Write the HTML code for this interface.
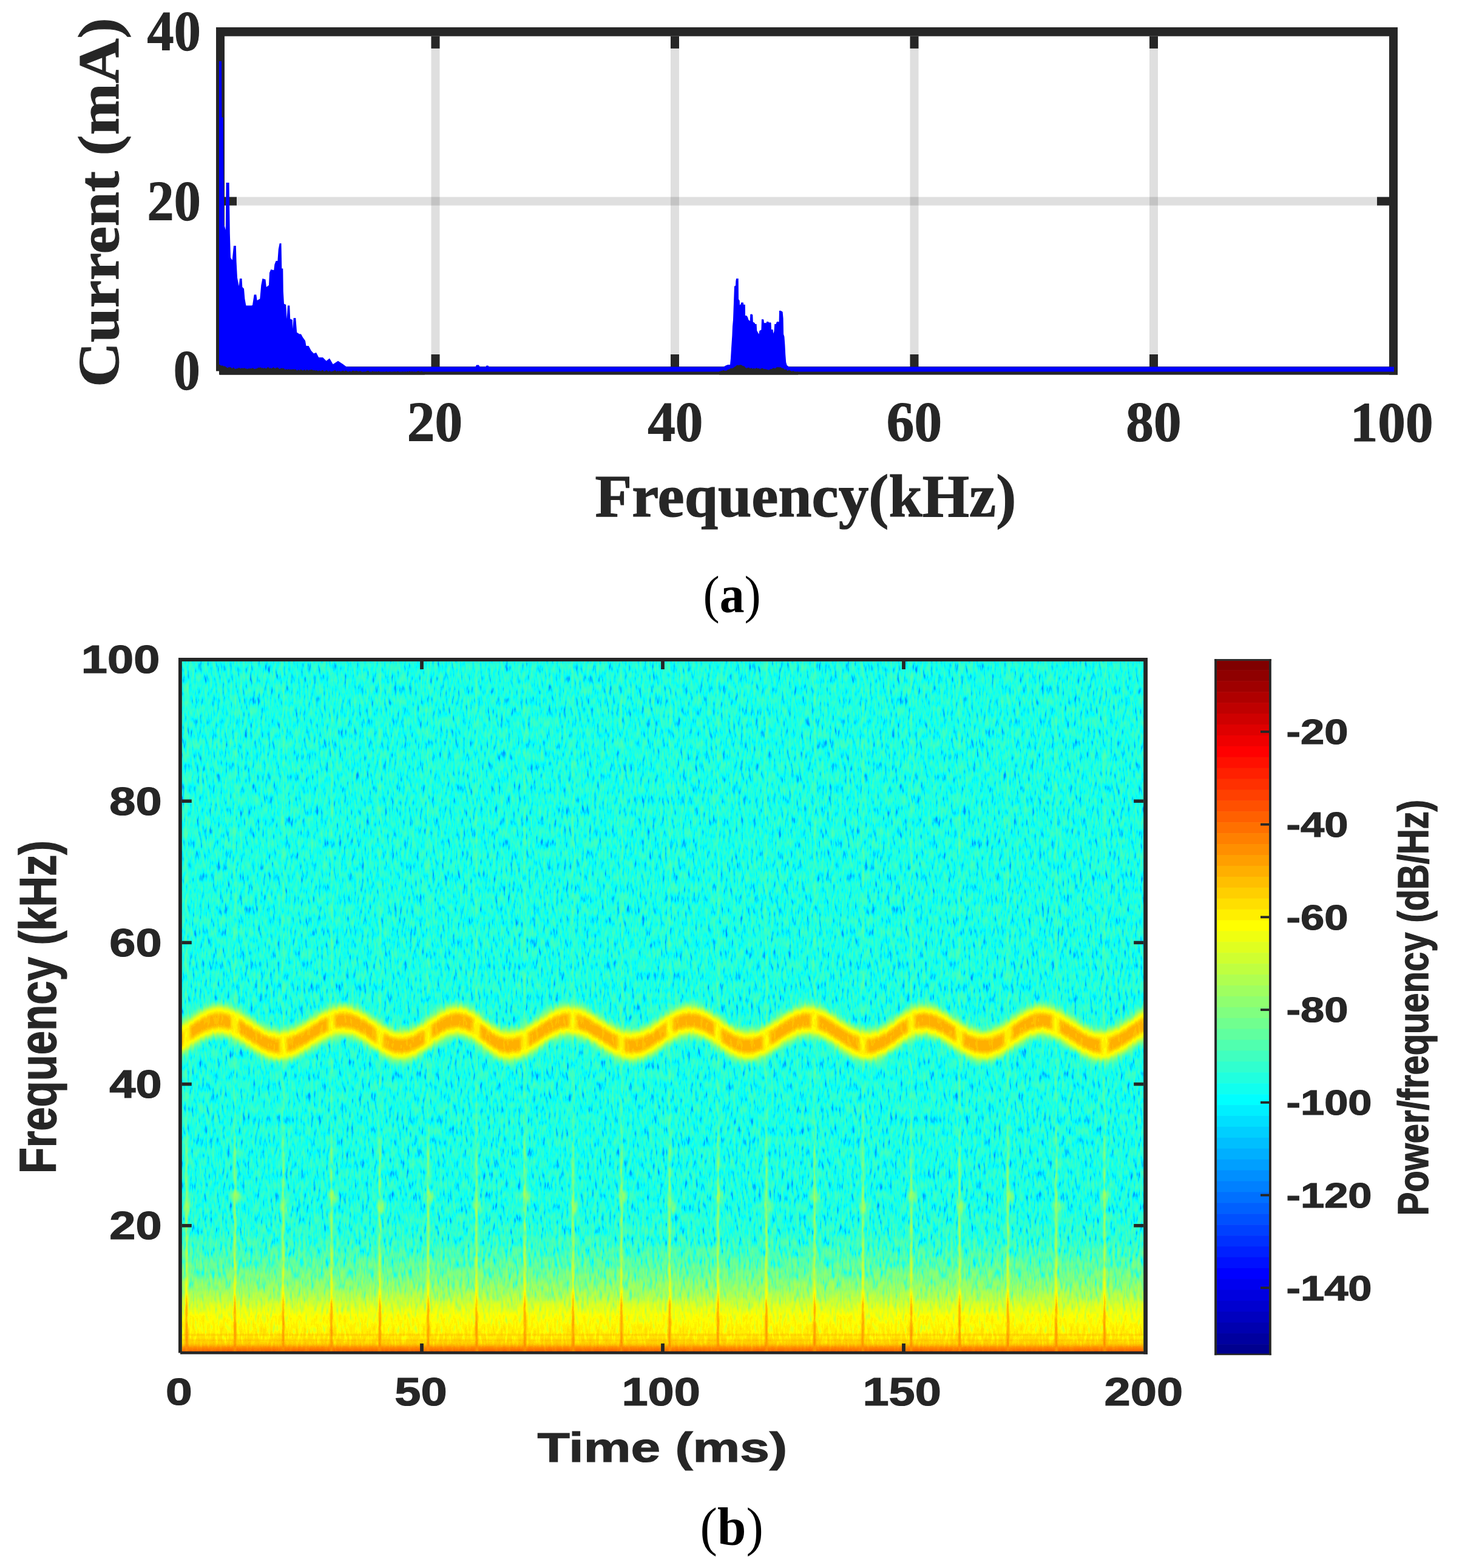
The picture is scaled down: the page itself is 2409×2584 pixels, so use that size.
<!DOCTYPE html>
<html><head><meta charset="utf-8"><title>Figure</title>
<style>html,body{margin:0;padding:0;background:#fff;} svg{display:block;}</style></head>
<body>
<svg width="2409" height="2584" viewBox="0 0 2409 2584">
<defs>
<linearGradient id="gb" gradientUnits="userSpaceOnUse" x1="0" y1="1990" x2="0" y2="2227"><stop offset="0.0000" stop-color="rgb(101,255,0)"/><stop offset="0.2110" stop-color="rgb(105,255,0)"/><stop offset="0.3797" stop-color="rgb(115,230,0)"/><stop offset="0.5063" stop-color="rgb(125,204,0)"/><stop offset="0.6118" stop-color="rgb(136,166,0)"/><stop offset="0.6835" stop-color="rgb(148,140,0)"/><stop offset="0.7511" stop-color="rgb(156,128,0)"/><stop offset="0.8650" stop-color="rgb(161,115,0)"/><stop offset="0.9156" stop-color="rgb(164,89,0)"/><stop offset="0.9494" stop-color="rgb(171,64,0)"/><stop offset="0.9747" stop-color="rgb(187,38,0)"/><stop offset="1.0000" stop-color="rgb(196,26,0)"/></linearGradient>
<filter id="bh1" x="-0.01" y="-3" width="1.02" height="7"><feGaussianBlur stdDeviation="0 1"/></filter>
<linearGradient id="gs" gradientUnits="userSpaceOnUse" x1="0" y1="1090" x2="0" y2="2227"><stop offset="0.0000" stop-color="rgb(120,128,0)" stop-opacity="0.3"/><stop offset="0.6684" stop-color="rgb(122,128,0)" stop-opacity="0.45"/><stop offset="0.7124" stop-color="rgb(129,128,0)" stop-opacity="0.8"/><stop offset="0.8443" stop-color="rgb(138,128,0)" stop-opacity="0.9"/><stop offset="0.9059" stop-color="rgb(153,76,0)" stop-opacity="0.95"/><stop offset="0.9323" stop-color="rgb(178,51,0)" stop-opacity="1"/><stop offset="1.0000" stop-color="rgb(186,38,0)" stop-opacity="1"/></linearGradient>
<filter id="b1" x="-2" y="-0.1" width="5" height="1.2"><feGaussianBlur stdDeviation="0.9"/></filter>
<filter id="b3d" x="-1" y="-1" width="3" height="3"><feGaussianBlur stdDeviation="3"/></filter>
<filter id="bb6" x="-0.1" y="-1" width="1.2" height="3"><feGaussianBlur stdDeviation="4"/></filter>
<filter id="bb4" x="-0.1" y="-1" width="1.2" height="3"><feGaussianBlur stdDeviation="3"/></filter>
<filter id="bb3" x="-0.5" y="-1" width="2" height="3"><feGaussianBlur stdDeviation="2.5"/></filter>
<filter id="jet" filterUnits="userSpaceOnUse" x="299.8" y="1090" width="1584.4" height="1137" color-interpolation-filters="sRGB">
<feTurbulence type="fractalNoise" baseFrequency="0.24 0.055" numOctaves="2" seed="7" result="t"/>
<feColorMatrix in="t" type="matrix" values="1 0 0 0 0 1 0 0 0 0 1 0 0 0 0 0 0 0 0 1" result="n"/>
<feComponentTransfer in="n" result="n2"><feFuncR type="table" tableValues="0 0.08 0.33 0.5 0.58 0.63 0.68"/><feFuncG type="table" tableValues="0 0.08 0.33 0.5 0.58 0.63 0.68"/><feFuncB type="table" tableValues="0 0.08 0.33 0.5 0.58 0.63 0.68"/></feComponentTransfer>
<feColorMatrix in="SourceGraphic" type="matrix" values="0 1 0 0 0 0 1 0 0 0 0 1 0 0 0 0 0 0 0 1" result="amp"/>
<feComposite in="amp" in2="n2" operator="arithmetic" k1="0.32" k2="-0.16" k3="0" k4="0.5" result="nz"/>
<feColorMatrix in="SourceGraphic" type="matrix" values="1 0 0 0 0 1 0 0 0 0 1 0 0 0 0 0 0 0 0 1" result="val"/>
<feComposite in="val" in2="nz" operator="arithmetic" k1="0" k2="1" k3="1" k4="-0.5" result="v"/>
<feComponentTransfer in="v"><feFuncR type="discrete" tableValues="0.0000 0.0000 0.0000 0.0000 0.0000 0.0000 0.0000 0.0000 0.0000 0.0000 0.0000 0.0000 0.0000 0.0000 0.0000 0.0000 0.0000 0.0000 0.0000 0.0000 0.0000 0.0000 0.0000 0.0000 0.0625 0.1250 0.1875 0.2500 0.3125 0.3750 0.4375 0.5000 0.5625 0.6250 0.6875 0.7500 0.8125 0.8750 0.9375 1.0000 1.0000 1.0000 1.0000 1.0000 1.0000 1.0000 1.0000 1.0000 1.0000 1.0000 1.0000 1.0000 1.0000 1.0000 1.0000 1.0000 0.9375 0.8750 0.8125 0.7500 0.6875 0.6250 0.5625 0.5000"/><feFuncG type="discrete" tableValues="0.0000 0.0000 0.0000 0.0000 0.0000 0.0000 0.0000 0.0000 0.0625 0.1250 0.1875 0.2500 0.3125 0.3750 0.4375 0.5000 0.5625 0.6250 0.6875 0.7500 0.8125 0.8750 0.9375 1.0000 1.0000 1.0000 1.0000 1.0000 1.0000 1.0000 1.0000 1.0000 1.0000 1.0000 1.0000 1.0000 1.0000 1.0000 1.0000 1.0000 0.9375 0.8750 0.8125 0.7500 0.6875 0.6250 0.5625 0.5000 0.4375 0.3750 0.3125 0.2500 0.1875 0.1250 0.0625 0.0000 0.0000 0.0000 0.0000 0.0000 0.0000 0.0000 0.0000 0.0000"/><feFuncB type="discrete" tableValues="0.5625 0.6250 0.6875 0.7500 0.8125 0.8750 0.9375 1.0000 1.0000 1.0000 1.0000 1.0000 1.0000 1.0000 1.0000 1.0000 1.0000 1.0000 1.0000 1.0000 1.0000 1.0000 1.0000 1.0000 0.9375 0.8750 0.8125 0.7500 0.6875 0.6250 0.5625 0.5000 0.4375 0.3750 0.3125 0.2500 0.1875 0.1250 0.0625 0.0000 0.0000 0.0000 0.0000 0.0000 0.0000 0.0000 0.0000 0.0000 0.0000 0.0000 0.0000 0.0000 0.0000 0.0000 0.0000 0.0000 0.0000 0.0000 0.0000 0.0000 0.0000 0.0000 0.0000 0.0000"/><feFuncA type="linear" slope="0" intercept="1"/></feComponentTransfer>
</filter>
</defs>
<rect x="0" y="0" width="2409" height="2584" fill="#fff"/>
<g id="top"><rect x="710.5" y="59.7" width="14" height="544.3" fill="rgba(38,38,38,0.15)"/>
<rect x="1105" y="59.7" width="14" height="544.3" fill="rgba(38,38,38,0.15)"/>
<rect x="1499.5" y="59.7" width="14" height="544.3" fill="rgba(38,38,38,0.15)"/>
<rect x="1894" y="59.7" width="14" height="544.3" fill="rgba(38,38,38,0.15)"/>
<rect x="370" y="324.6" width="1919" height="14" fill="rgba(38,38,38,0.15)"/>
<rect x="356" y="45" width="1947" height="14.7" fill="#262626"/>
<rect x="362" y="604" width="1941" height="13.6" fill="#262626"/>
<rect x="356" y="45" width="14" height="566.6" fill="#262626"/>
<rect x="2289" y="45" width="14" height="572.6" fill="#262626"/>
<rect x="710.5" y="59.7" width="14" height="20.2" fill="#262626"/>
<rect x="710.5" y="584" width="14" height="20" fill="#262626"/>
<rect x="1105" y="59.7" width="14" height="20.2" fill="#262626"/>
<rect x="1105" y="584" width="14" height="20" fill="#262626"/>
<rect x="1499.5" y="59.7" width="14" height="20.2" fill="#262626"/>
<rect x="1499.5" y="584" width="14" height="20" fill="#262626"/>
<rect x="1894" y="59.7" width="14" height="20.2" fill="#262626"/>
<rect x="1894" y="584" width="14" height="20" fill="#262626"/>
<rect x="370" y="324.6" width="20" height="14" fill="#262626"/>
<rect x="2269" y="324.6" width="20" height="14" fill="#262626"/>
<polygon points="361,612.5 361,612 361,100.8 365,100.8 365.5,193.5 367.7,193.5 368.3,257 369.4,370.6 371.8,379 372.6,301 377.6,301 378.2,343 378.8,384.5 380,424.6 382.7,428.7 385,405 388.8,405 389.6,431.5 391,457.8 393.7,471.6 395,459 398.5,459 399.3,473 402,475.8 403.4,492.4 405.4,503.5 414.5,503.5 416,503 418.7,485.5 422.3,485.5 423.6,495 428.3,492.4 430.3,470 432.5,459 437.5,460.6 438.9,473 443,470 444,449.5 446.3,444 451.3,445.3 452.4,435.7 454.6,430 457.4,430 458.8,410.8 460.7,401 463.5,401 464.3,442.6 466.3,442.6 466.8,480 468,500.7 471.2,502 472.6,525.6 474,503.5 477.3,503.5 478.2,525.6 481.8,527 482.3,542 483.7,524 487.3,524 489.2,547.8 493.4,550.5 496,550.5 499,556 503,561.6 504.5,570 508.6,570 512.8,578 517,582.4 521,581 525.2,589 532,589 537.7,594.8 543,590.6 548.7,600.3 557,594.8 565.3,600.3 571,604.5 580,605 580,612.5" fill="#0000ff"/>
<polygon points="1193,612.5 1193,604 1196.6,602 1199.6,601 1203,601 1204,591 1205,574 1206.4,552.7 1207,538 1208,527 1209,499 1210,471.7 1212,470.7 1212.4,462.7 1213.2,459 1216.7,459 1217,492.9 1218.7,495.4 1219,503 1220.7,501 1221.2,498.4 1224.8,498.4 1225.3,502 1227.8,502 1228,520 1230.8,520.5 1232.3,523.5 1233.3,527 1235.8,529 1236.3,518 1238.8,517.5 1240.3,519 1240.8,530.6 1243.4,532 1244.4,534 1246.6,534 1247.2,544.7 1250.4,550.7 1251.4,545 1254.4,543.6 1255,526 1258.4,526.5 1259,532.6 1260.5,532 1262.5,532.6 1263.3,530 1266,530 1267.5,532 1268.5,531 1270.5,532 1271,543 1273.5,543 1274.3,549.7 1275.5,545.7 1276.3,534 1278.6,534 1279.6,531 1280.6,530 1283.6,530.6 1284,512 1286.6,512 1289.6,514 1290.6,525 1291.1,550.7 1292.4,554.7 1293.4,568.3 1294.2,583.9 1295.2,597 1296.7,602 1300.7,605 1307.7,606 1307.7,612.5" fill="#0000ff"/>
<rect x="362" y="604.5" width="1935" height="8" fill="#0000ff"/>
<polygon points="361,617.6 361,600.56 362.6,601.37 364.2,602.83 365.8,602.19 367.4,602.85 369,603.65 370.6,603.22 372.2,604.66 373.8,605.56 375.4,606.46 377,604.8 378.6,605.46 380.2,605.05 381.8,607.02 383.4,606.85 385,605.31 386.6,607.84 388.2,607.93 389.8,607.26 391.4,607.29 393,606.24 394.6,606.01 396.2,607.45 397.8,606.38 399.4,606.84 401,606.97 402.6,606.35 404.2,607.38 405.8,607.24 407.4,608.19 409,607.28 410.6,607.51 412.2,607.07 413.8,607.41 415.4,606.8 417,606.26 418.6,608.02 420.2,607.94 421.8,607.51 423.4,607.13 425,606.08 426.6,605.82 428.2,605.93 429.8,605.33 431.4,607.08 433,606.1 434.6,607.2 436.2,605.98 437.8,607.41 439.4,607.08 441,604.93 442.6,605.5 444.2,607.34 445.8,606.25 447.4,607.59 449,606.14 450.6,605.35 452.2,606.82 453.8,607.24 455.4,605.98 457,605.55 458.6,606.22 460.2,607.91 461.8,607.7 463.4,606.38 465,607.03 466.6,606.98 468.2,607.19 469.8,609.4 471.4,607.9 473,608.93 474.6,608.7 476.2,608.09 477.8,609.53 479.4,608.05 481,609.41 482.6,608.12 484.2,608.95 485.8,608.47 487.4,608.67 489,610.52 490.6,610.14 492.2,608.92 493.8,610.46 495.4,608.79 497,609.31 498.6,610.54 500.2,610.05 501.8,608.72 503.4,611.06 505,609.13 506.6,609.31 508.2,610.69 509.8,609.61 511.4,609.59 513,609.08 514.6,609.18 516.2,610.5 517.8,609.69 519.4,610.67 521,610.14 522.6,610.41 524.2,611.76 525.8,610.61 527.4,610.9 529,611.71 530.6,610.02 532.2,610 533.8,611.99 535.4,611.82 537,610.43 538.6,610.33 540.2,611.8 541.8,612.34 543.4,610.46 545,612.42 546.6,612.27 548.2,611.58 549.8,611.14 551.4,610.36 553,610.22 554.6,612.61 556.2,610.78 557.8,612 559.4,610.88 561,612.36 562.6,611.8 564.2,611.05 565.8,610.78 567.4,612.2 569,610.56 570.6,610.99 572.2,611.87 573.8,612.65 575.4,612.06 577,611.23 578.6,612.89 580.2,611.09 581.8,610.64 583.4,611.31 585,611.79 586.6,610.83 588.2,611.15 589.8,611.67 591.4,612.22 593,611.12 594.6,611.74 596.2,613.12 597.8,613.37 599.4,612.57 601,612.67 602.6,612.41 604.2,611.28 605.8,611.02 607.4,610.98 609,613.28 610.6,612.75 612.2,613.43 613.8,611.02 615.4,612.61 617,612.22 618.6,612.86 620.2,611.82 621.8,613.5 623.4,611.21 625,612.42 626.6,612.92 628.2,613.35 629.8,612.94 631.4,612.86 633,613.1 634.6,613.42 636.2,611.98 637.8,612.84 639.4,613.4 641,613.34 642.6,612.18 644.2,613.14 645.8,613.34 647.4,612.6 649,612.74 650.6,612.13 652.2,612.65 653.8,612.73 655.4,611.38 657,612.82 658.6,613.5 660.2,613.45 661.8,613.07 663.4,612.21 665,613.11 666.6,612.72 668.2,612.37 669.8,613.4 671.4,611.47 673,613.19 674.6,611.35 676.2,612.82 677.8,612.52 679.4,611.89 681,613.09 682.6,612.59 684.2,612.89 685.8,613.5 687.4,611.99 689,611.37 690.6,612.12 692.2,613.1 693.8,611.89 695.4,611.81 697,613.5 698.6,613.08 700,617.6" fill="#262626"/>
<polygon points="1185,617.6 1185,611.53 1186.6,612.48 1188.2,610.84 1189.8,611.5 1191.4,610.11 1193,610.5 1194.6,611.06 1196.2,610.94 1197.8,610.45 1199.4,608.78 1201,608.89 1202.6,607.81 1204.2,606.95 1205.8,607.1 1207.4,606.83 1209,605.72 1210.6,604.22 1212.2,603.81 1213.8,601.93 1215.4,601.49 1217,602.05 1218.6,601.44 1220.2,601.13 1221.8,601.48 1223.4,602.7 1225,603.16 1226.6,603.51 1228.2,605.65 1229.8,606.81 1231.4,606.26 1233,605.65 1234.6,605.63 1236.2,607.87 1237.8,605.83 1239.4,607.63 1241,607.36 1242.6,606.78 1244.2,608.1 1245.8,606.22 1247.4,606.6 1249,607.51 1250.6,606.49 1252.2,608.63 1253.8,607.2 1255.4,607.03 1257,606.87 1258.6,608.44 1260.2,608.05 1261.8,608.6 1263.4,608.75 1265,609.22 1266.6,609.68 1268.2,609.06 1269.8,607.9 1271.4,608.24 1273,607.06 1274.6,606.2 1276.2,606.96 1277.8,607.15 1279.4,605.35 1281,605.16 1282.6,604.93 1284.2,605.4 1285.8,605.08 1287.4,606 1289,607.05 1290.6,606.81 1292.2,608.5 1293.8,609.39 1295.4,607.9 1297,610.66 1298.6,610.72 1300.2,609.75 1301.8,610.74 1303.4,611.34 1305,612.23 1306.6,611.02 1308.2,611.68 1309.8,612.63 1311.4,612.58 1313,613.12 1314.6,612.05 1315,617.6" fill="#262626"/>
<path d="M783,605 L785,601.5 L789,601.5 L791,605 Z M800,605 L801.5,602.5 L804.5,602.5 L806,605 Z" fill="#0000ff"/></g>
<g id="bottom"><g filter="url(#jet)"><rect x="299.8" y="1090" width="1584.4" height="1137" fill="rgb(101,255,0)"/>
<rect x="299.8" y="1990" width="1584.4" height="237" fill="url(#gb)"/>
<g fill="rgb(176,38,0)" fill-opacity="0.55" filter="url(#bh1)"><rect x="299.8" y="2198.5" width="1584.4" height="2.5"/><rect x="299.8" y="2207.5" width="1584.4" height="2.5"/></g>
<g fill="url(#gs)" filter="url(#b1)"><rect x="305.5" y="1090" width="4" height="1137"/><rect x="385.1" y="1090" width="4" height="1137"/><rect x="464.7" y="1090" width="4" height="1137"/><rect x="544.3" y="1090" width="4" height="1137"/><rect x="623.9" y="1090" width="4" height="1137"/><rect x="703.5" y="1090" width="4" height="1137"/><rect x="783.1" y="1090" width="4" height="1137"/><rect x="862.7" y="1090" width="4" height="1137"/><rect x="942.3" y="1090" width="4" height="1137"/><rect x="1021.9" y="1090" width="4" height="1137"/><rect x="1101.5" y="1090" width="4" height="1137"/><rect x="1181.1" y="1090" width="4" height="1137"/><rect x="1260.7" y="1090" width="4" height="1137"/><rect x="1340.3" y="1090" width="4" height="1137"/><rect x="1419.9" y="1090" width="4" height="1137"/><rect x="1499.5" y="1090" width="4" height="1137"/><rect x="1579.1" y="1090" width="4" height="1137"/><rect x="1658.7" y="1090" width="4" height="1137"/><rect x="1738.3" y="1090" width="4" height="1137"/><rect x="1817.9" y="1090" width="4" height="1137"/></g>
<g fill="rgb(135,128,0)" fill-opacity="0.75" filter="url(#b3d)"><ellipse cx="309.5" cy="1989" rx="7" ry="11"/><ellipse cx="389.1" cy="1972" rx="7" ry="11"/><ellipse cx="468.7" cy="1989" rx="7" ry="11"/><ellipse cx="548.3" cy="1972" rx="7" ry="11"/><ellipse cx="627.9" cy="1989" rx="7" ry="11"/><ellipse cx="707.5" cy="1972" rx="7" ry="11"/><ellipse cx="787.1" cy="1989" rx="7" ry="11"/><ellipse cx="866.7" cy="1972" rx="7" ry="11"/><ellipse cx="946.3" cy="1989" rx="7" ry="11"/><ellipse cx="1025.9" cy="1972" rx="7" ry="11"/><ellipse cx="1105.5" cy="1989" rx="7" ry="11"/><ellipse cx="1185.1" cy="1972" rx="7" ry="11"/><ellipse cx="1264.7" cy="1989" rx="7" ry="11"/><ellipse cx="1344.3" cy="1972" rx="7" ry="11"/><ellipse cx="1423.9" cy="1989" rx="7" ry="11"/><ellipse cx="1503.5" cy="1972" rx="7" ry="11"/><ellipse cx="1583.1" cy="1989" rx="7" ry="11"/><ellipse cx="1662.7" cy="1972" rx="7" ry="11"/><ellipse cx="1742.3" cy="1989" rx="7" ry="11"/><ellipse cx="1821.9" cy="1972" rx="7" ry="11"/></g>
<path d="M287.8,1687.94 L290.8,1686.48 L293.8,1684.88 L296.8,1683.16 L299.8,1681.34 L302.8,1679.43 L305.8,1677.46 L308.8,1675.44 L311.8,1673.39 L314.8,1671.33 L317.8,1669.29 L320.8,1667.27 L323.8,1665.31 L326.8,1663.41 L329.8,1661.61 L332.8,1659.9 L335.8,1658.32 L338.8,1656.87 L341.8,1655.58 L344.8,1654.44 L347.8,1653.48 L350.8,1652.7 L353.8,1652.11 L356.8,1651.72 L359.8,1651.52 L362.8,1651.53 L365.8,1651.72 L368.8,1652.1 L371.8,1652.67 L374.8,1653.41 L377.8,1654.32 L380.8,1655.4 L383.8,1656.63 L386.8,1658.01 L389.8,1659.51 L392.8,1661.13 L395.8,1662.85 L398.8,1664.66 L401.8,1666.54 L404.8,1668.48 L407.8,1670.45 L410.8,1672.43 L413.8,1674.42 L416.8,1676.39 L419.8,1678.33 L422.8,1680.21 L425.8,1682.03 L428.8,1683.76 L431.8,1685.38 L434.8,1686.9 L437.8,1688.28 L440.8,1689.52 L443.8,1690.61 L446.8,1691.53 L449.8,1692.29 L452.8,1692.87 L455.8,1693.26 L458.8,1693.47 L461.8,1693.49 L464.8,1693.34 L467.8,1693.02 L470.8,1692.54 L473.8,1691.9 L476.8,1691.11 L479.8,1690.17 L482.8,1689.09 L485.8,1687.88 L488.8,1686.55 L491.8,1685.1 L494.8,1683.55 L497.8,1681.92 L500.8,1680.21 L503.8,1678.44 L506.8,1676.62 L509.8,1674.77 L512.8,1672.91 L515.8,1671.03 L518.8,1669.17 L521.8,1667.34 L524.8,1665.55 L527.8,1663.81 L530.8,1662.14 L533.8,1660.56 L536.8,1659.07 L539.8,1657.68 L542.8,1656.42 L545.8,1655.28 L548.8,1654.28 L551.8,1653.42 L554.8,1652.71 L557.8,1652.17 L560.8,1651.78 L563.8,1651.56 L566.8,1651.5 L569.8,1651.64 L572.8,1651.98 L575.8,1652.53 L578.8,1653.27 L581.8,1654.2 L584.8,1655.31 L587.8,1656.59 L590.8,1658.02 L593.8,1659.6 L596.8,1661.31 L599.8,1663.12 L602.8,1665.03 L605.8,1667.01 L608.8,1669.04 L611.8,1671.11 L614.8,1673.19 L617.8,1675.27 L620.8,1677.32 L623.8,1679.32 L626.8,1681.25 L629.8,1683.1 L632.8,1684.84 L635.8,1686.47 L638.8,1687.95 L641.8,1689.28 L644.8,1690.45 L647.8,1691.44 L650.8,1692.25 L653.8,1692.86 L656.8,1693.27 L659.8,1693.47 L662.8,1693.47 L665.8,1693.26 L668.8,1692.83 L671.8,1692.19 L674.8,1691.35 L677.8,1690.31 L680.8,1689.1 L683.8,1687.71 L686.8,1686.16 L689.8,1684.48 L692.8,1682.67 L695.8,1680.76 L698.8,1678.76 L701.8,1676.7 L704.8,1674.59 L707.8,1672.46 L710.8,1670.34 L713.8,1668.23 L716.8,1666.17 L719.8,1664.18 L722.8,1662.27 L725.8,1660.46 L728.8,1658.78 L731.8,1657.24 L734.8,1655.86 L737.8,1654.65 L740.8,1653.62 L743.8,1652.79 L746.8,1652.15 L749.8,1651.73 L752.8,1651.52 L755.8,1651.54 L758.8,1651.81 L761.8,1652.34 L764.8,1653.12 L767.8,1654.15 L770.8,1655.4 L773.8,1656.87 L776.8,1658.53 L779.8,1660.37 L782.8,1662.36 L785.8,1664.48 L788.8,1666.7 L791.8,1668.99 L794.8,1671.33 L797.8,1673.67 L800.8,1676.01 L803.8,1678.3 L806.8,1680.52 L809.8,1682.64 L812.8,1684.63 L815.8,1686.47 L818.8,1688.13 L821.8,1689.6 L824.8,1690.85 L827.8,1691.88 L830.8,1692.66 L833.8,1693.19 L836.8,1693.46 L839.8,1693.48 L842.8,1693.3 L845.8,1692.93 L848.8,1692.37 L851.8,1691.64 L854.8,1690.74 L857.8,1689.67 L860.8,1688.44 L863.8,1687.08 L866.8,1685.58 L869.8,1683.96 L872.8,1682.24 L875.8,1680.44 L878.8,1678.56 L881.8,1676.63 L884.8,1674.66 L887.8,1672.67 L890.8,1670.68 L893.8,1668.7 L896.8,1666.76 L899.8,1664.87 L902.8,1663.05 L905.8,1661.32 L908.8,1659.68 L911.8,1658.16 L914.8,1656.77 L917.8,1655.53 L920.8,1654.43 L923.8,1653.5 L926.8,1652.74 L929.8,1652.15 L932.8,1651.75 L935.8,1651.54 L938.8,1651.51 L941.8,1651.66 L944.8,1651.98 L947.8,1652.48 L950.8,1653.14 L953.8,1653.95 L956.8,1654.93 L959.8,1656.04 L962.8,1657.29 L965.8,1658.67 L968.8,1660.17 L971.8,1661.76 L974.8,1663.45 L977.8,1665.2 L980.8,1667.02 L983.8,1668.89 L986.8,1670.78 L989.8,1672.69 L992.8,1674.6 L995.8,1676.49 L998.8,1678.34 L1001.8,1680.15 L1004.8,1681.9 L1007.8,1683.56 L1010.8,1685.14 L1013.8,1686.61 L1016.8,1687.97 L1019.8,1689.19 L1022.8,1690.28 L1025.8,1691.22 L1028.8,1692.01 L1031.8,1692.63 L1034.8,1693.09 L1037.8,1693.38 L1040.8,1693.5 L1043.8,1693.43 L1046.8,1693.16 L1049.8,1692.7 L1052.8,1692.04 L1055.8,1691.19 L1058.8,1690.16 L1061.8,1688.97 L1064.8,1687.61 L1067.8,1686.11 L1070.8,1684.49 L1073.8,1682.74 L1076.8,1680.9 L1079.8,1678.98 L1082.8,1676.99 L1085.8,1674.96 L1088.8,1672.91 L1091.8,1670.86 L1094.8,1668.82 L1097.8,1666.81 L1100.8,1664.86 L1103.8,1662.98 L1106.8,1661.2 L1109.8,1659.52 L1112.8,1657.97 L1115.8,1656.56 L1118.8,1655.3 L1121.8,1654.2 L1124.8,1653.28 L1127.8,1652.54 L1130.8,1652 L1133.8,1651.65 L1136.8,1651.51 L1139.8,1651.56 L1142.8,1651.82 L1145.8,1652.29 L1148.8,1652.95 L1151.8,1653.8 L1154.8,1654.84 L1157.8,1656.06 L1160.8,1657.43 L1163.8,1658.95 L1166.8,1660.61 L1169.8,1662.38 L1172.8,1664.26 L1175.8,1666.21 L1178.8,1668.22 L1181.8,1670.28 L1184.8,1672.36 L1187.8,1674.44 L1190.8,1676.5 L1193.8,1678.53 L1196.8,1680.49 L1199.8,1682.37 L1202.8,1684.16 L1205.8,1685.83 L1208.8,1687.37 L1211.8,1688.77 L1214.8,1690 L1217.8,1691.07 L1220.8,1691.95 L1223.8,1692.64 L1226.8,1693.13 L1229.8,1693.42 L1232.8,1693.5 L1235.8,1693.39 L1238.8,1693.08 L1241.8,1692.6 L1244.8,1691.93 L1247.8,1691.09 L1250.8,1690.08 L1253.8,1688.91 L1256.8,1687.59 L1259.8,1686.14 L1262.8,1684.57 L1265.8,1682.88 L1268.8,1681.11 L1271.8,1679.25 L1274.8,1677.34 L1277.8,1675.38 L1280.8,1673.4 L1283.8,1671.4 L1286.8,1669.42 L1289.8,1667.47 L1292.8,1665.56 L1295.8,1663.71 L1298.8,1661.94 L1301.8,1660.27 L1304.8,1658.71 L1307.8,1657.27 L1310.8,1655.97 L1313.8,1654.81 L1316.8,1653.82 L1319.8,1653 L1322.8,1652.35 L1325.8,1651.88 L1328.8,1651.59 L1331.8,1651.5 L1334.8,1651.59 L1337.8,1651.88 L1340.8,1652.35 L1343.8,1653 L1346.8,1653.82 L1349.8,1654.81 L1352.8,1655.97 L1355.8,1657.27 L1358.8,1658.71 L1361.8,1660.27 L1364.8,1661.94 L1367.8,1663.71 L1370.8,1665.56 L1373.8,1667.47 L1376.8,1669.42 L1379.8,1671.4 L1382.8,1673.4 L1385.8,1675.38 L1388.8,1677.34 L1391.8,1679.25 L1394.8,1681.11 L1397.8,1682.88 L1400.8,1684.57 L1403.8,1686.14 L1406.8,1687.59 L1409.8,1688.91 L1412.8,1690.08 L1415.8,1691.09 L1418.8,1691.93 L1421.8,1692.6 L1424.8,1693.08 L1427.8,1693.39 L1430.8,1693.5 L1433.8,1693.41 L1436.8,1693.09 L1439.8,1692.55 L1442.8,1691.8 L1445.8,1690.84 L1448.8,1689.68 L1451.8,1688.33 L1454.8,1686.81 L1457.8,1685.14 L1460.8,1683.33 L1463.8,1681.41 L1466.8,1679.39 L1469.8,1677.29 L1472.8,1675.15 L1475.8,1672.97 L1478.8,1670.79 L1481.8,1668.63 L1484.8,1666.51 L1487.8,1664.46 L1490.8,1662.49 L1493.8,1660.63 L1496.8,1658.89 L1499.8,1657.31 L1502.8,1655.89 L1505.8,1654.64 L1508.8,1653.59 L1511.8,1652.75 L1514.8,1652.11 L1517.8,1651.7 L1520.8,1651.51 L1523.8,1651.54 L1526.8,1651.76 L1529.8,1652.17 L1532.8,1652.76 L1535.8,1653.53 L1538.8,1654.46 L1541.8,1655.57 L1544.8,1656.82 L1547.8,1658.21 L1550.8,1659.74 L1553.8,1661.37 L1556.8,1663.11 L1559.8,1664.93 L1562.8,1666.82 L1565.8,1668.77 L1568.8,1670.74 L1571.8,1672.73 L1574.8,1674.72 L1577.8,1676.69 L1580.8,1678.62 L1583.8,1680.5 L1586.8,1682.3 L1589.8,1684.02 L1592.8,1685.63 L1595.8,1687.12 L1598.8,1688.49 L1601.8,1689.71 L1604.8,1690.77 L1607.8,1691.67 L1610.8,1692.39 L1613.8,1692.94 L1616.8,1693.31 L1619.8,1693.48 L1622.8,1693.47 L1625.8,1693.25 L1628.8,1692.82 L1631.8,1692.2 L1634.8,1691.38 L1637.8,1690.38 L1640.8,1689.2 L1643.8,1687.86 L1646.8,1686.36 L1649.8,1684.73 L1652.8,1682.98 L1655.8,1681.13 L1658.8,1679.19 L1661.8,1677.18 L1664.8,1675.13 L1667.8,1673.06 L1670.8,1670.97 L1673.8,1668.91 L1676.8,1666.87 L1679.8,1664.9 L1682.8,1663 L1685.8,1661.19 L1688.8,1659.49 L1691.8,1657.92 L1694.8,1656.5 L1697.8,1655.23 L1700.8,1654.13 L1703.8,1653.21 L1706.8,1652.49 L1709.8,1651.95 L1712.8,1651.62 L1715.8,1651.5 L1718.8,1651.58 L1721.8,1651.84 L1724.8,1652.29 L1727.8,1652.92 L1730.8,1653.73 L1733.8,1654.71 L1736.8,1655.84 L1739.8,1657.13 L1742.8,1658.56 L1745.8,1660.11 L1748.8,1661.77 L1751.8,1663.53 L1754.8,1665.37 L1757.8,1667.27 L1760.8,1669.22 L1763.8,1671.21 L1766.8,1673.2 L1769.8,1675.18 L1772.8,1677.15 L1775.8,1679.07 L1778.8,1680.93 L1781.8,1682.71 L1784.8,1684.4 L1787.8,1685.99 L1790.8,1687.45 L1793.8,1688.78 L1796.8,1689.97 L1799.8,1690.99 L1802.8,1691.85 L1805.8,1692.54 L1808.8,1693.04 L1811.8,1693.36 L1814.8,1693.5 L1817.8,1693.43 L1820.8,1693.16 L1823.8,1692.69 L1826.8,1692.01 L1829.8,1691.14 L1832.8,1690.09 L1835.8,1688.86 L1838.8,1687.47 L1841.8,1685.93 L1844.8,1684.26 L1847.8,1682.47 L1850.8,1680.58 L1853.8,1678.62 L1856.8,1676.59 L1859.8,1674.52 L1862.8,1672.43 L1865.8,1670.34 L1868.8,1668.27 L1871.8,1666.25 L1874.8,1664.29 L1877.8,1662.41 L1880.8,1660.62 L1883.8,1658.96 L1886.8,1657.43 L1889.8,1656.05 L1892.8,1654.83 L1895.8,1653.79 L1896.2,1653.67 L1896.2,1713.67 L1895.8,1713.79 L1892.8,1714.83 L1889.8,1716.05 L1886.8,1717.43 L1883.8,1718.96 L1880.8,1720.62 L1877.8,1722.41 L1874.8,1724.29 L1871.8,1726.25 L1868.8,1728.27 L1865.8,1730.34 L1862.8,1732.43 L1859.8,1734.52 L1856.8,1736.59 L1853.8,1738.62 L1850.8,1740.58 L1847.8,1742.47 L1844.8,1744.26 L1841.8,1745.93 L1838.8,1747.47 L1835.8,1748.86 L1832.8,1750.09 L1829.8,1751.14 L1826.8,1752.01 L1823.8,1752.69 L1820.8,1753.16 L1817.8,1753.43 L1814.8,1753.5 L1811.8,1753.36 L1808.8,1753.04 L1805.8,1752.54 L1802.8,1751.85 L1799.8,1750.99 L1796.8,1749.97 L1793.8,1748.78 L1790.8,1747.45 L1787.8,1745.99 L1784.8,1744.4 L1781.8,1742.71 L1778.8,1740.93 L1775.8,1739.07 L1772.8,1737.15 L1769.8,1735.18 L1766.8,1733.2 L1763.8,1731.21 L1760.8,1729.22 L1757.8,1727.27 L1754.8,1725.37 L1751.8,1723.53 L1748.8,1721.77 L1745.8,1720.11 L1742.8,1718.56 L1739.8,1717.13 L1736.8,1715.84 L1733.8,1714.71 L1730.8,1713.73 L1727.8,1712.92 L1724.8,1712.29 L1721.8,1711.84 L1718.8,1711.58 L1715.8,1711.5 L1712.8,1711.62 L1709.8,1711.95 L1706.8,1712.49 L1703.8,1713.21 L1700.8,1714.13 L1697.8,1715.23 L1694.8,1716.5 L1691.8,1717.92 L1688.8,1719.49 L1685.8,1721.19 L1682.8,1723 L1679.8,1724.9 L1676.8,1726.87 L1673.8,1728.91 L1670.8,1730.97 L1667.8,1733.06 L1664.8,1735.13 L1661.8,1737.18 L1658.8,1739.19 L1655.8,1741.13 L1652.8,1742.98 L1649.8,1744.73 L1646.8,1746.36 L1643.8,1747.86 L1640.8,1749.2 L1637.8,1750.38 L1634.8,1751.38 L1631.8,1752.2 L1628.8,1752.82 L1625.8,1753.25 L1622.8,1753.47 L1619.8,1753.48 L1616.8,1753.31 L1613.8,1752.94 L1610.8,1752.39 L1607.8,1751.67 L1604.8,1750.77 L1601.8,1749.71 L1598.8,1748.49 L1595.8,1747.12 L1592.8,1745.63 L1589.8,1744.02 L1586.8,1742.3 L1583.8,1740.5 L1580.8,1738.62 L1577.8,1736.69 L1574.8,1734.72 L1571.8,1732.73 L1568.8,1730.74 L1565.8,1728.77 L1562.8,1726.82 L1559.8,1724.93 L1556.8,1723.11 L1553.8,1721.37 L1550.8,1719.74 L1547.8,1718.21 L1544.8,1716.82 L1541.8,1715.57 L1538.8,1714.46 L1535.8,1713.53 L1532.8,1712.76 L1529.8,1712.17 L1526.8,1711.76 L1523.8,1711.54 L1520.8,1711.51 L1517.8,1711.7 L1514.8,1712.11 L1511.8,1712.75 L1508.8,1713.59 L1505.8,1714.64 L1502.8,1715.89 L1499.8,1717.31 L1496.8,1718.89 L1493.8,1720.63 L1490.8,1722.49 L1487.8,1724.46 L1484.8,1726.51 L1481.8,1728.63 L1478.8,1730.79 L1475.8,1732.97 L1472.8,1735.15 L1469.8,1737.29 L1466.8,1739.39 L1463.8,1741.41 L1460.8,1743.33 L1457.8,1745.14 L1454.8,1746.81 L1451.8,1748.33 L1448.8,1749.68 L1445.8,1750.84 L1442.8,1751.8 L1439.8,1752.55 L1436.8,1753.09 L1433.8,1753.41 L1430.8,1753.5 L1427.8,1753.39 L1424.8,1753.08 L1421.8,1752.6 L1418.8,1751.93 L1415.8,1751.09 L1412.8,1750.08 L1409.8,1748.91 L1406.8,1747.59 L1403.8,1746.14 L1400.8,1744.57 L1397.8,1742.88 L1394.8,1741.11 L1391.8,1739.25 L1388.8,1737.34 L1385.8,1735.38 L1382.8,1733.4 L1379.8,1731.4 L1376.8,1729.42 L1373.8,1727.47 L1370.8,1725.56 L1367.8,1723.71 L1364.8,1721.94 L1361.8,1720.27 L1358.8,1718.71 L1355.8,1717.27 L1352.8,1715.97 L1349.8,1714.81 L1346.8,1713.82 L1343.8,1713 L1340.8,1712.35 L1337.8,1711.88 L1334.8,1711.59 L1331.8,1711.5 L1328.8,1711.59 L1325.8,1711.88 L1322.8,1712.35 L1319.8,1713 L1316.8,1713.82 L1313.8,1714.81 L1310.8,1715.97 L1307.8,1717.27 L1304.8,1718.71 L1301.8,1720.27 L1298.8,1721.94 L1295.8,1723.71 L1292.8,1725.56 L1289.8,1727.47 L1286.8,1729.42 L1283.8,1731.4 L1280.8,1733.4 L1277.8,1735.38 L1274.8,1737.34 L1271.8,1739.25 L1268.8,1741.11 L1265.8,1742.88 L1262.8,1744.57 L1259.8,1746.14 L1256.8,1747.59 L1253.8,1748.91 L1250.8,1750.08 L1247.8,1751.09 L1244.8,1751.93 L1241.8,1752.6 L1238.8,1753.08 L1235.8,1753.39 L1232.8,1753.5 L1229.8,1753.42 L1226.8,1753.13 L1223.8,1752.64 L1220.8,1751.95 L1217.8,1751.07 L1214.8,1750 L1211.8,1748.77 L1208.8,1747.37 L1205.8,1745.83 L1202.8,1744.16 L1199.8,1742.37 L1196.8,1740.49 L1193.8,1738.53 L1190.8,1736.5 L1187.8,1734.44 L1184.8,1732.36 L1181.8,1730.28 L1178.8,1728.22 L1175.8,1726.21 L1172.8,1724.26 L1169.8,1722.38 L1166.8,1720.61 L1163.8,1718.95 L1160.8,1717.43 L1157.8,1716.06 L1154.8,1714.84 L1151.8,1713.8 L1148.8,1712.95 L1145.8,1712.29 L1142.8,1711.82 L1139.8,1711.56 L1136.8,1711.51 L1133.8,1711.65 L1130.8,1712 L1127.8,1712.54 L1124.8,1713.28 L1121.8,1714.2 L1118.8,1715.3 L1115.8,1716.56 L1112.8,1717.97 L1109.8,1719.52 L1106.8,1721.2 L1103.8,1722.98 L1100.8,1724.86 L1097.8,1726.81 L1094.8,1728.82 L1091.8,1730.86 L1088.8,1732.91 L1085.8,1734.96 L1082.8,1736.99 L1079.8,1738.98 L1076.8,1740.9 L1073.8,1742.74 L1070.8,1744.49 L1067.8,1746.11 L1064.8,1747.61 L1061.8,1748.97 L1058.8,1750.16 L1055.8,1751.19 L1052.8,1752.04 L1049.8,1752.7 L1046.8,1753.16 L1043.8,1753.43 L1040.8,1753.5 L1037.8,1753.38 L1034.8,1753.09 L1031.8,1752.63 L1028.8,1752.01 L1025.8,1751.22 L1022.8,1750.28 L1019.8,1749.19 L1016.8,1747.97 L1013.8,1746.61 L1010.8,1745.14 L1007.8,1743.56 L1004.8,1741.9 L1001.8,1740.15 L998.8,1738.34 L995.8,1736.49 L992.8,1734.6 L989.8,1732.69 L986.8,1730.78 L983.8,1728.89 L980.8,1727.02 L977.8,1725.2 L974.8,1723.45 L971.8,1721.76 L968.8,1720.17 L965.8,1718.67 L962.8,1717.29 L959.8,1716.04 L956.8,1714.93 L953.8,1713.95 L950.8,1713.14 L947.8,1712.48 L944.8,1711.98 L941.8,1711.66 L938.8,1711.51 L935.8,1711.54 L932.8,1711.75 L929.8,1712.15 L926.8,1712.74 L923.8,1713.5 L920.8,1714.43 L917.8,1715.53 L914.8,1716.77 L911.8,1718.16 L908.8,1719.68 L905.8,1721.32 L902.8,1723.05 L899.8,1724.87 L896.8,1726.76 L893.8,1728.7 L890.8,1730.68 L887.8,1732.67 L884.8,1734.66 L881.8,1736.63 L878.8,1738.56 L875.8,1740.44 L872.8,1742.24 L869.8,1743.96 L866.8,1745.58 L863.8,1747.08 L860.8,1748.44 L857.8,1749.67 L854.8,1750.74 L851.8,1751.64 L848.8,1752.37 L845.8,1752.93 L842.8,1753.3 L839.8,1753.48 L836.8,1753.46 L833.8,1753.19 L830.8,1752.66 L827.8,1751.88 L824.8,1750.85 L821.8,1749.6 L818.8,1748.13 L815.8,1746.47 L812.8,1744.63 L809.8,1742.64 L806.8,1740.52 L803.8,1738.3 L800.8,1736.01 L797.8,1733.67 L794.8,1731.33 L791.8,1728.99 L788.8,1726.7 L785.8,1724.48 L782.8,1722.36 L779.8,1720.37 L776.8,1718.53 L773.8,1716.87 L770.8,1715.4 L767.8,1714.15 L764.8,1713.12 L761.8,1712.34 L758.8,1711.81 L755.8,1711.54 L752.8,1711.52 L749.8,1711.73 L746.8,1712.15 L743.8,1712.79 L740.8,1713.62 L737.8,1714.65 L734.8,1715.86 L731.8,1717.24 L728.8,1718.78 L725.8,1720.46 L722.8,1722.27 L719.8,1724.18 L716.8,1726.17 L713.8,1728.23 L710.8,1730.34 L707.8,1732.46 L704.8,1734.59 L701.8,1736.7 L698.8,1738.76 L695.8,1740.76 L692.8,1742.67 L689.8,1744.48 L686.8,1746.16 L683.8,1747.71 L680.8,1749.1 L677.8,1750.31 L674.8,1751.35 L671.8,1752.19 L668.8,1752.83 L665.8,1753.26 L662.8,1753.47 L659.8,1753.47 L656.8,1753.27 L653.8,1752.86 L650.8,1752.25 L647.8,1751.44 L644.8,1750.45 L641.8,1749.28 L638.8,1747.95 L635.8,1746.47 L632.8,1744.84 L629.8,1743.1 L626.8,1741.25 L623.8,1739.32 L620.8,1737.32 L617.8,1735.27 L614.8,1733.19 L611.8,1731.11 L608.8,1729.04 L605.8,1727.01 L602.8,1725.03 L599.8,1723.12 L596.8,1721.31 L593.8,1719.6 L590.8,1718.02 L587.8,1716.59 L584.8,1715.31 L581.8,1714.2 L578.8,1713.27 L575.8,1712.53 L572.8,1711.98 L569.8,1711.64 L566.8,1711.5 L563.8,1711.56 L560.8,1711.78 L557.8,1712.17 L554.8,1712.71 L551.8,1713.42 L548.8,1714.28 L545.8,1715.28 L542.8,1716.42 L539.8,1717.68 L536.8,1719.07 L533.8,1720.56 L530.8,1722.14 L527.8,1723.81 L524.8,1725.55 L521.8,1727.34 L518.8,1729.17 L515.8,1731.03 L512.8,1732.91 L509.8,1734.77 L506.8,1736.62 L503.8,1738.44 L500.8,1740.21 L497.8,1741.92 L494.8,1743.55 L491.8,1745.1 L488.8,1746.55 L485.8,1747.88 L482.8,1749.09 L479.8,1750.17 L476.8,1751.11 L473.8,1751.9 L470.8,1752.54 L467.8,1753.02 L464.8,1753.34 L461.8,1753.49 L458.8,1753.47 L455.8,1753.26 L452.8,1752.87 L449.8,1752.29 L446.8,1751.53 L443.8,1750.61 L440.8,1749.52 L437.8,1748.28 L434.8,1746.9 L431.8,1745.38 L428.8,1743.76 L425.8,1742.03 L422.8,1740.21 L419.8,1738.33 L416.8,1736.39 L413.8,1734.42 L410.8,1732.43 L407.8,1730.45 L404.8,1728.48 L401.8,1726.54 L398.8,1724.66 L395.8,1722.85 L392.8,1721.13 L389.8,1719.51 L386.8,1718.01 L383.8,1716.63 L380.8,1715.4 L377.8,1714.32 L374.8,1713.41 L371.8,1712.67 L368.8,1712.1 L365.8,1711.72 L362.8,1711.53 L359.8,1711.52 L356.8,1711.72 L353.8,1712.11 L350.8,1712.7 L347.8,1713.48 L344.8,1714.44 L341.8,1715.58 L338.8,1716.87 L335.8,1718.32 L332.8,1719.9 L329.8,1721.61 L326.8,1723.41 L323.8,1725.31 L320.8,1727.27 L317.8,1729.29 L314.8,1731.33 L311.8,1733.39 L308.8,1735.44 L305.8,1737.46 L302.8,1739.43 L299.8,1741.34 L296.8,1743.16 L293.8,1744.88 L290.8,1746.48 L287.8,1747.94Z" fill="rgb(125,115,0)" filter="url(#bb6)"/>
<path d="M287.8,1696.44 L290.8,1694.98 L293.8,1693.38 L296.8,1691.66 L299.8,1689.84 L302.8,1687.93 L305.8,1685.96 L308.8,1683.94 L311.8,1681.89 L314.8,1679.83 L317.8,1677.79 L320.8,1675.77 L323.8,1673.81 L326.8,1671.91 L329.8,1670.11 L332.8,1668.4 L335.8,1666.82 L338.8,1665.37 L341.8,1664.08 L344.8,1662.94 L347.8,1661.98 L350.8,1661.2 L353.8,1660.61 L356.8,1660.22 L359.8,1660.02 L362.8,1660.03 L365.8,1660.22 L368.8,1660.6 L371.8,1661.17 L374.8,1661.91 L377.8,1662.82 L380.8,1663.9 L383.8,1665.13 L386.8,1666.51 L389.8,1668.01 L392.8,1669.63 L395.8,1671.35 L398.8,1673.16 L401.8,1675.04 L404.8,1676.98 L407.8,1678.95 L410.8,1680.93 L413.8,1682.92 L416.8,1684.89 L419.8,1686.83 L422.8,1688.71 L425.8,1690.53 L428.8,1692.26 L431.8,1693.88 L434.8,1695.4 L437.8,1696.78 L440.8,1698.02 L443.8,1699.11 L446.8,1700.03 L449.8,1700.79 L452.8,1701.37 L455.8,1701.76 L458.8,1701.97 L461.8,1701.99 L464.8,1701.84 L467.8,1701.52 L470.8,1701.04 L473.8,1700.4 L476.8,1699.61 L479.8,1698.67 L482.8,1697.59 L485.8,1696.38 L488.8,1695.05 L491.8,1693.6 L494.8,1692.05 L497.8,1690.42 L500.8,1688.71 L503.8,1686.94 L506.8,1685.12 L509.8,1683.27 L512.8,1681.41 L515.8,1679.53 L518.8,1677.67 L521.8,1675.84 L524.8,1674.05 L527.8,1672.31 L530.8,1670.64 L533.8,1669.06 L536.8,1667.57 L539.8,1666.18 L542.8,1664.92 L545.8,1663.78 L548.8,1662.78 L551.8,1661.92 L554.8,1661.21 L557.8,1660.67 L560.8,1660.28 L563.8,1660.06 L566.8,1660 L569.8,1660.14 L572.8,1660.48 L575.8,1661.03 L578.8,1661.77 L581.8,1662.7 L584.8,1663.81 L587.8,1665.09 L590.8,1666.52 L593.8,1668.1 L596.8,1669.81 L599.8,1671.62 L602.8,1673.53 L605.8,1675.51 L608.8,1677.54 L611.8,1679.61 L614.8,1681.69 L617.8,1683.77 L620.8,1685.82 L623.8,1687.82 L626.8,1689.75 L629.8,1691.6 L632.8,1693.34 L635.8,1694.97 L638.8,1696.45 L641.8,1697.78 L644.8,1698.95 L647.8,1699.94 L650.8,1700.75 L653.8,1701.36 L656.8,1701.77 L659.8,1701.97 L662.8,1701.97 L665.8,1701.76 L668.8,1701.33 L671.8,1700.69 L674.8,1699.85 L677.8,1698.81 L680.8,1697.6 L683.8,1696.21 L686.8,1694.66 L689.8,1692.98 L692.8,1691.17 L695.8,1689.26 L698.8,1687.26 L701.8,1685.2 L704.8,1683.09 L707.8,1680.96 L710.8,1678.84 L713.8,1676.73 L716.8,1674.67 L719.8,1672.68 L722.8,1670.77 L725.8,1668.96 L728.8,1667.28 L731.8,1665.74 L734.8,1664.36 L737.8,1663.15 L740.8,1662.12 L743.8,1661.29 L746.8,1660.65 L749.8,1660.23 L752.8,1660.02 L755.8,1660.04 L758.8,1660.31 L761.8,1660.84 L764.8,1661.62 L767.8,1662.65 L770.8,1663.9 L773.8,1665.37 L776.8,1667.03 L779.8,1668.87 L782.8,1670.86 L785.8,1672.98 L788.8,1675.2 L791.8,1677.49 L794.8,1679.83 L797.8,1682.17 L800.8,1684.51 L803.8,1686.8 L806.8,1689.02 L809.8,1691.14 L812.8,1693.13 L815.8,1694.97 L818.8,1696.63 L821.8,1698.1 L824.8,1699.35 L827.8,1700.38 L830.8,1701.16 L833.8,1701.69 L836.8,1701.96 L839.8,1701.98 L842.8,1701.8 L845.8,1701.43 L848.8,1700.87 L851.8,1700.14 L854.8,1699.24 L857.8,1698.17 L860.8,1696.94 L863.8,1695.58 L866.8,1694.08 L869.8,1692.46 L872.8,1690.74 L875.8,1688.94 L878.8,1687.06 L881.8,1685.13 L884.8,1683.16 L887.8,1681.17 L890.8,1679.18 L893.8,1677.2 L896.8,1675.26 L899.8,1673.37 L902.8,1671.55 L905.8,1669.82 L908.8,1668.18 L911.8,1666.66 L914.8,1665.27 L917.8,1664.03 L920.8,1662.93 L923.8,1662 L926.8,1661.24 L929.8,1660.65 L932.8,1660.25 L935.8,1660.04 L938.8,1660.01 L941.8,1660.16 L944.8,1660.48 L947.8,1660.98 L950.8,1661.64 L953.8,1662.45 L956.8,1663.43 L959.8,1664.54 L962.8,1665.79 L965.8,1667.17 L968.8,1668.67 L971.8,1670.26 L974.8,1671.95 L977.8,1673.7 L980.8,1675.52 L983.8,1677.39 L986.8,1679.28 L989.8,1681.19 L992.8,1683.1 L995.8,1684.99 L998.8,1686.84 L1001.8,1688.65 L1004.8,1690.4 L1007.8,1692.06 L1010.8,1693.64 L1013.8,1695.11 L1016.8,1696.47 L1019.8,1697.69 L1022.8,1698.78 L1025.8,1699.72 L1028.8,1700.51 L1031.8,1701.13 L1034.8,1701.59 L1037.8,1701.88 L1040.8,1702 L1043.8,1701.93 L1046.8,1701.66 L1049.8,1701.2 L1052.8,1700.54 L1055.8,1699.69 L1058.8,1698.66 L1061.8,1697.47 L1064.8,1696.11 L1067.8,1694.61 L1070.8,1692.99 L1073.8,1691.24 L1076.8,1689.4 L1079.8,1687.48 L1082.8,1685.49 L1085.8,1683.46 L1088.8,1681.41 L1091.8,1679.36 L1094.8,1677.32 L1097.8,1675.31 L1100.8,1673.36 L1103.8,1671.48 L1106.8,1669.7 L1109.8,1668.02 L1112.8,1666.47 L1115.8,1665.06 L1118.8,1663.8 L1121.8,1662.7 L1124.8,1661.78 L1127.8,1661.04 L1130.8,1660.5 L1133.8,1660.15 L1136.8,1660.01 L1139.8,1660.06 L1142.8,1660.32 L1145.8,1660.79 L1148.8,1661.45 L1151.8,1662.3 L1154.8,1663.34 L1157.8,1664.56 L1160.8,1665.93 L1163.8,1667.45 L1166.8,1669.11 L1169.8,1670.88 L1172.8,1672.76 L1175.8,1674.71 L1178.8,1676.72 L1181.8,1678.78 L1184.8,1680.86 L1187.8,1682.94 L1190.8,1685 L1193.8,1687.03 L1196.8,1688.99 L1199.8,1690.87 L1202.8,1692.66 L1205.8,1694.33 L1208.8,1695.87 L1211.8,1697.27 L1214.8,1698.5 L1217.8,1699.57 L1220.8,1700.45 L1223.8,1701.14 L1226.8,1701.63 L1229.8,1701.92 L1232.8,1702 L1235.8,1701.89 L1238.8,1701.58 L1241.8,1701.1 L1244.8,1700.43 L1247.8,1699.59 L1250.8,1698.58 L1253.8,1697.41 L1256.8,1696.09 L1259.8,1694.64 L1262.8,1693.07 L1265.8,1691.38 L1268.8,1689.61 L1271.8,1687.75 L1274.8,1685.84 L1277.8,1683.88 L1280.8,1681.9 L1283.8,1679.9 L1286.8,1677.92 L1289.8,1675.97 L1292.8,1674.06 L1295.8,1672.21 L1298.8,1670.44 L1301.8,1668.77 L1304.8,1667.21 L1307.8,1665.77 L1310.8,1664.47 L1313.8,1663.31 L1316.8,1662.32 L1319.8,1661.5 L1322.8,1660.85 L1325.8,1660.38 L1328.8,1660.09 L1331.8,1660 L1334.8,1660.09 L1337.8,1660.38 L1340.8,1660.85 L1343.8,1661.5 L1346.8,1662.32 L1349.8,1663.31 L1352.8,1664.47 L1355.8,1665.77 L1358.8,1667.21 L1361.8,1668.77 L1364.8,1670.44 L1367.8,1672.21 L1370.8,1674.06 L1373.8,1675.97 L1376.8,1677.92 L1379.8,1679.9 L1382.8,1681.9 L1385.8,1683.88 L1388.8,1685.84 L1391.8,1687.75 L1394.8,1689.61 L1397.8,1691.38 L1400.8,1693.07 L1403.8,1694.64 L1406.8,1696.09 L1409.8,1697.41 L1412.8,1698.58 L1415.8,1699.59 L1418.8,1700.43 L1421.8,1701.1 L1424.8,1701.58 L1427.8,1701.89 L1430.8,1702 L1433.8,1701.91 L1436.8,1701.59 L1439.8,1701.05 L1442.8,1700.3 L1445.8,1699.34 L1448.8,1698.18 L1451.8,1696.83 L1454.8,1695.31 L1457.8,1693.64 L1460.8,1691.83 L1463.8,1689.91 L1466.8,1687.89 L1469.8,1685.79 L1472.8,1683.65 L1475.8,1681.47 L1478.8,1679.29 L1481.8,1677.13 L1484.8,1675.01 L1487.8,1672.96 L1490.8,1670.99 L1493.8,1669.13 L1496.8,1667.39 L1499.8,1665.81 L1502.8,1664.39 L1505.8,1663.14 L1508.8,1662.09 L1511.8,1661.25 L1514.8,1660.61 L1517.8,1660.2 L1520.8,1660.01 L1523.8,1660.04 L1526.8,1660.26 L1529.8,1660.67 L1532.8,1661.26 L1535.8,1662.03 L1538.8,1662.96 L1541.8,1664.07 L1544.8,1665.32 L1547.8,1666.71 L1550.8,1668.24 L1553.8,1669.87 L1556.8,1671.61 L1559.8,1673.43 L1562.8,1675.32 L1565.8,1677.27 L1568.8,1679.24 L1571.8,1681.23 L1574.8,1683.22 L1577.8,1685.19 L1580.8,1687.12 L1583.8,1689 L1586.8,1690.8 L1589.8,1692.52 L1592.8,1694.13 L1595.8,1695.62 L1598.8,1696.99 L1601.8,1698.21 L1604.8,1699.27 L1607.8,1700.17 L1610.8,1700.89 L1613.8,1701.44 L1616.8,1701.81 L1619.8,1701.98 L1622.8,1701.97 L1625.8,1701.75 L1628.8,1701.32 L1631.8,1700.7 L1634.8,1699.88 L1637.8,1698.88 L1640.8,1697.7 L1643.8,1696.36 L1646.8,1694.86 L1649.8,1693.23 L1652.8,1691.48 L1655.8,1689.63 L1658.8,1687.69 L1661.8,1685.68 L1664.8,1683.63 L1667.8,1681.56 L1670.8,1679.47 L1673.8,1677.41 L1676.8,1675.37 L1679.8,1673.4 L1682.8,1671.5 L1685.8,1669.69 L1688.8,1667.99 L1691.8,1666.42 L1694.8,1665 L1697.8,1663.73 L1700.8,1662.63 L1703.8,1661.71 L1706.8,1660.99 L1709.8,1660.45 L1712.8,1660.12 L1715.8,1660 L1718.8,1660.08 L1721.8,1660.34 L1724.8,1660.79 L1727.8,1661.42 L1730.8,1662.23 L1733.8,1663.21 L1736.8,1664.34 L1739.8,1665.63 L1742.8,1667.06 L1745.8,1668.61 L1748.8,1670.27 L1751.8,1672.03 L1754.8,1673.87 L1757.8,1675.77 L1760.8,1677.72 L1763.8,1679.71 L1766.8,1681.7 L1769.8,1683.68 L1772.8,1685.65 L1775.8,1687.57 L1778.8,1689.43 L1781.8,1691.21 L1784.8,1692.9 L1787.8,1694.49 L1790.8,1695.95 L1793.8,1697.28 L1796.8,1698.47 L1799.8,1699.49 L1802.8,1700.35 L1805.8,1701.04 L1808.8,1701.54 L1811.8,1701.86 L1814.8,1702 L1817.8,1701.93 L1820.8,1701.66 L1823.8,1701.19 L1826.8,1700.51 L1829.8,1699.64 L1832.8,1698.59 L1835.8,1697.36 L1838.8,1695.97 L1841.8,1694.43 L1844.8,1692.76 L1847.8,1690.97 L1850.8,1689.08 L1853.8,1687.12 L1856.8,1685.09 L1859.8,1683.02 L1862.8,1680.93 L1865.8,1678.84 L1868.8,1676.77 L1871.8,1674.75 L1874.8,1672.79 L1877.8,1670.91 L1880.8,1669.12 L1883.8,1667.46 L1886.8,1665.93 L1889.8,1664.55 L1892.8,1663.33 L1895.8,1662.29 L1896.2,1662.17 L1896.2,1705.17 L1895.8,1705.29 L1892.8,1706.33 L1889.8,1707.55 L1886.8,1708.93 L1883.8,1710.46 L1880.8,1712.12 L1877.8,1713.91 L1874.8,1715.79 L1871.8,1717.75 L1868.8,1719.77 L1865.8,1721.84 L1862.8,1723.93 L1859.8,1726.02 L1856.8,1728.09 L1853.8,1730.12 L1850.8,1732.08 L1847.8,1733.97 L1844.8,1735.76 L1841.8,1737.43 L1838.8,1738.97 L1835.8,1740.36 L1832.8,1741.59 L1829.8,1742.64 L1826.8,1743.51 L1823.8,1744.19 L1820.8,1744.66 L1817.8,1744.93 L1814.8,1745 L1811.8,1744.86 L1808.8,1744.54 L1805.8,1744.04 L1802.8,1743.35 L1799.8,1742.49 L1796.8,1741.47 L1793.8,1740.28 L1790.8,1738.95 L1787.8,1737.49 L1784.8,1735.9 L1781.8,1734.21 L1778.8,1732.43 L1775.8,1730.57 L1772.8,1728.65 L1769.8,1726.68 L1766.8,1724.7 L1763.8,1722.71 L1760.8,1720.72 L1757.8,1718.77 L1754.8,1716.87 L1751.8,1715.03 L1748.8,1713.27 L1745.8,1711.61 L1742.8,1710.06 L1739.8,1708.63 L1736.8,1707.34 L1733.8,1706.21 L1730.8,1705.23 L1727.8,1704.42 L1724.8,1703.79 L1721.8,1703.34 L1718.8,1703.08 L1715.8,1703 L1712.8,1703.12 L1709.8,1703.45 L1706.8,1703.99 L1703.8,1704.71 L1700.8,1705.63 L1697.8,1706.73 L1694.8,1708 L1691.8,1709.42 L1688.8,1710.99 L1685.8,1712.69 L1682.8,1714.5 L1679.8,1716.4 L1676.8,1718.37 L1673.8,1720.41 L1670.8,1722.47 L1667.8,1724.56 L1664.8,1726.63 L1661.8,1728.68 L1658.8,1730.69 L1655.8,1732.63 L1652.8,1734.48 L1649.8,1736.23 L1646.8,1737.86 L1643.8,1739.36 L1640.8,1740.7 L1637.8,1741.88 L1634.8,1742.88 L1631.8,1743.7 L1628.8,1744.32 L1625.8,1744.75 L1622.8,1744.97 L1619.8,1744.98 L1616.8,1744.81 L1613.8,1744.44 L1610.8,1743.89 L1607.8,1743.17 L1604.8,1742.27 L1601.8,1741.21 L1598.8,1739.99 L1595.8,1738.62 L1592.8,1737.13 L1589.8,1735.52 L1586.8,1733.8 L1583.8,1732 L1580.8,1730.12 L1577.8,1728.19 L1574.8,1726.22 L1571.8,1724.23 L1568.8,1722.24 L1565.8,1720.27 L1562.8,1718.32 L1559.8,1716.43 L1556.8,1714.61 L1553.8,1712.87 L1550.8,1711.24 L1547.8,1709.71 L1544.8,1708.32 L1541.8,1707.07 L1538.8,1705.96 L1535.8,1705.03 L1532.8,1704.26 L1529.8,1703.67 L1526.8,1703.26 L1523.8,1703.04 L1520.8,1703.01 L1517.8,1703.2 L1514.8,1703.61 L1511.8,1704.25 L1508.8,1705.09 L1505.8,1706.14 L1502.8,1707.39 L1499.8,1708.81 L1496.8,1710.39 L1493.8,1712.13 L1490.8,1713.99 L1487.8,1715.96 L1484.8,1718.01 L1481.8,1720.13 L1478.8,1722.29 L1475.8,1724.47 L1472.8,1726.65 L1469.8,1728.79 L1466.8,1730.89 L1463.8,1732.91 L1460.8,1734.83 L1457.8,1736.64 L1454.8,1738.31 L1451.8,1739.83 L1448.8,1741.18 L1445.8,1742.34 L1442.8,1743.3 L1439.8,1744.05 L1436.8,1744.59 L1433.8,1744.91 L1430.8,1745 L1427.8,1744.89 L1424.8,1744.58 L1421.8,1744.1 L1418.8,1743.43 L1415.8,1742.59 L1412.8,1741.58 L1409.8,1740.41 L1406.8,1739.09 L1403.8,1737.64 L1400.8,1736.07 L1397.8,1734.38 L1394.8,1732.61 L1391.8,1730.75 L1388.8,1728.84 L1385.8,1726.88 L1382.8,1724.9 L1379.8,1722.9 L1376.8,1720.92 L1373.8,1718.97 L1370.8,1717.06 L1367.8,1715.21 L1364.8,1713.44 L1361.8,1711.77 L1358.8,1710.21 L1355.8,1708.77 L1352.8,1707.47 L1349.8,1706.31 L1346.8,1705.32 L1343.8,1704.5 L1340.8,1703.85 L1337.8,1703.38 L1334.8,1703.09 L1331.8,1703 L1328.8,1703.09 L1325.8,1703.38 L1322.8,1703.85 L1319.8,1704.5 L1316.8,1705.32 L1313.8,1706.31 L1310.8,1707.47 L1307.8,1708.77 L1304.8,1710.21 L1301.8,1711.77 L1298.8,1713.44 L1295.8,1715.21 L1292.8,1717.06 L1289.8,1718.97 L1286.8,1720.92 L1283.8,1722.9 L1280.8,1724.9 L1277.8,1726.88 L1274.8,1728.84 L1271.8,1730.75 L1268.8,1732.61 L1265.8,1734.38 L1262.8,1736.07 L1259.8,1737.64 L1256.8,1739.09 L1253.8,1740.41 L1250.8,1741.58 L1247.8,1742.59 L1244.8,1743.43 L1241.8,1744.1 L1238.8,1744.58 L1235.8,1744.89 L1232.8,1745 L1229.8,1744.92 L1226.8,1744.63 L1223.8,1744.14 L1220.8,1743.45 L1217.8,1742.57 L1214.8,1741.5 L1211.8,1740.27 L1208.8,1738.87 L1205.8,1737.33 L1202.8,1735.66 L1199.8,1733.87 L1196.8,1731.99 L1193.8,1730.03 L1190.8,1728 L1187.8,1725.94 L1184.8,1723.86 L1181.8,1721.78 L1178.8,1719.72 L1175.8,1717.71 L1172.8,1715.76 L1169.8,1713.88 L1166.8,1712.11 L1163.8,1710.45 L1160.8,1708.93 L1157.8,1707.56 L1154.8,1706.34 L1151.8,1705.3 L1148.8,1704.45 L1145.8,1703.79 L1142.8,1703.32 L1139.8,1703.06 L1136.8,1703.01 L1133.8,1703.15 L1130.8,1703.5 L1127.8,1704.04 L1124.8,1704.78 L1121.8,1705.7 L1118.8,1706.8 L1115.8,1708.06 L1112.8,1709.47 L1109.8,1711.02 L1106.8,1712.7 L1103.8,1714.48 L1100.8,1716.36 L1097.8,1718.31 L1094.8,1720.32 L1091.8,1722.36 L1088.8,1724.41 L1085.8,1726.46 L1082.8,1728.49 L1079.8,1730.48 L1076.8,1732.4 L1073.8,1734.24 L1070.8,1735.99 L1067.8,1737.61 L1064.8,1739.11 L1061.8,1740.47 L1058.8,1741.66 L1055.8,1742.69 L1052.8,1743.54 L1049.8,1744.2 L1046.8,1744.66 L1043.8,1744.93 L1040.8,1745 L1037.8,1744.88 L1034.8,1744.59 L1031.8,1744.13 L1028.8,1743.51 L1025.8,1742.72 L1022.8,1741.78 L1019.8,1740.69 L1016.8,1739.47 L1013.8,1738.11 L1010.8,1736.64 L1007.8,1735.06 L1004.8,1733.4 L1001.8,1731.65 L998.8,1729.84 L995.8,1727.99 L992.8,1726.1 L989.8,1724.19 L986.8,1722.28 L983.8,1720.39 L980.8,1718.52 L977.8,1716.7 L974.8,1714.95 L971.8,1713.26 L968.8,1711.67 L965.8,1710.17 L962.8,1708.79 L959.8,1707.54 L956.8,1706.43 L953.8,1705.45 L950.8,1704.64 L947.8,1703.98 L944.8,1703.48 L941.8,1703.16 L938.8,1703.01 L935.8,1703.04 L932.8,1703.25 L929.8,1703.65 L926.8,1704.24 L923.8,1705 L920.8,1705.93 L917.8,1707.03 L914.8,1708.27 L911.8,1709.66 L908.8,1711.18 L905.8,1712.82 L902.8,1714.55 L899.8,1716.37 L896.8,1718.26 L893.8,1720.2 L890.8,1722.18 L887.8,1724.17 L884.8,1726.16 L881.8,1728.13 L878.8,1730.06 L875.8,1731.94 L872.8,1733.74 L869.8,1735.46 L866.8,1737.08 L863.8,1738.58 L860.8,1739.94 L857.8,1741.17 L854.8,1742.24 L851.8,1743.14 L848.8,1743.87 L845.8,1744.43 L842.8,1744.8 L839.8,1744.98 L836.8,1744.96 L833.8,1744.69 L830.8,1744.16 L827.8,1743.38 L824.8,1742.35 L821.8,1741.1 L818.8,1739.63 L815.8,1737.97 L812.8,1736.13 L809.8,1734.14 L806.8,1732.02 L803.8,1729.8 L800.8,1727.51 L797.8,1725.17 L794.8,1722.83 L791.8,1720.49 L788.8,1718.2 L785.8,1715.98 L782.8,1713.86 L779.8,1711.87 L776.8,1710.03 L773.8,1708.37 L770.8,1706.9 L767.8,1705.65 L764.8,1704.62 L761.8,1703.84 L758.8,1703.31 L755.8,1703.04 L752.8,1703.02 L749.8,1703.23 L746.8,1703.65 L743.8,1704.29 L740.8,1705.12 L737.8,1706.15 L734.8,1707.36 L731.8,1708.74 L728.8,1710.28 L725.8,1711.96 L722.8,1713.77 L719.8,1715.68 L716.8,1717.67 L713.8,1719.73 L710.8,1721.84 L707.8,1723.96 L704.8,1726.09 L701.8,1728.2 L698.8,1730.26 L695.8,1732.26 L692.8,1734.17 L689.8,1735.98 L686.8,1737.66 L683.8,1739.21 L680.8,1740.6 L677.8,1741.81 L674.8,1742.85 L671.8,1743.69 L668.8,1744.33 L665.8,1744.76 L662.8,1744.97 L659.8,1744.97 L656.8,1744.77 L653.8,1744.36 L650.8,1743.75 L647.8,1742.94 L644.8,1741.95 L641.8,1740.78 L638.8,1739.45 L635.8,1737.97 L632.8,1736.34 L629.8,1734.6 L626.8,1732.75 L623.8,1730.82 L620.8,1728.82 L617.8,1726.77 L614.8,1724.69 L611.8,1722.61 L608.8,1720.54 L605.8,1718.51 L602.8,1716.53 L599.8,1714.62 L596.8,1712.81 L593.8,1711.1 L590.8,1709.52 L587.8,1708.09 L584.8,1706.81 L581.8,1705.7 L578.8,1704.77 L575.8,1704.03 L572.8,1703.48 L569.8,1703.14 L566.8,1703 L563.8,1703.06 L560.8,1703.28 L557.8,1703.67 L554.8,1704.21 L551.8,1704.92 L548.8,1705.78 L545.8,1706.78 L542.8,1707.92 L539.8,1709.18 L536.8,1710.57 L533.8,1712.06 L530.8,1713.64 L527.8,1715.31 L524.8,1717.05 L521.8,1718.84 L518.8,1720.67 L515.8,1722.53 L512.8,1724.41 L509.8,1726.27 L506.8,1728.12 L503.8,1729.94 L500.8,1731.71 L497.8,1733.42 L494.8,1735.05 L491.8,1736.6 L488.8,1738.05 L485.8,1739.38 L482.8,1740.59 L479.8,1741.67 L476.8,1742.61 L473.8,1743.4 L470.8,1744.04 L467.8,1744.52 L464.8,1744.84 L461.8,1744.99 L458.8,1744.97 L455.8,1744.76 L452.8,1744.37 L449.8,1743.79 L446.8,1743.03 L443.8,1742.11 L440.8,1741.02 L437.8,1739.78 L434.8,1738.4 L431.8,1736.88 L428.8,1735.26 L425.8,1733.53 L422.8,1731.71 L419.8,1729.83 L416.8,1727.89 L413.8,1725.92 L410.8,1723.93 L407.8,1721.95 L404.8,1719.98 L401.8,1718.04 L398.8,1716.16 L395.8,1714.35 L392.8,1712.63 L389.8,1711.01 L386.8,1709.51 L383.8,1708.13 L380.8,1706.9 L377.8,1705.82 L374.8,1704.91 L371.8,1704.17 L368.8,1703.6 L365.8,1703.22 L362.8,1703.03 L359.8,1703.02 L356.8,1703.22 L353.8,1703.61 L350.8,1704.2 L347.8,1704.98 L344.8,1705.94 L341.8,1707.08 L338.8,1708.37 L335.8,1709.82 L332.8,1711.4 L329.8,1713.11 L326.8,1714.91 L323.8,1716.81 L320.8,1718.77 L317.8,1720.79 L314.8,1722.83 L311.8,1724.89 L308.8,1726.94 L305.8,1728.96 L302.8,1730.93 L299.8,1732.84 L296.8,1734.66 L293.8,1736.38 L290.8,1737.98 L287.8,1739.44Z" fill="rgb(159,51,0)" filter="url(#bb4)"/>
<path d="M287.8,1706.44 L289.8,1705.48 L291.8,1704.46 L293.8,1703.38 L295.8,1702.24 L297.8,1701.06 L299.8,1699.84 L301.8,1698.57 L302,1698.45 L302,1721.45 L301.8,1721.57 L299.8,1722.84 L297.8,1724.06 L295.8,1725.24 L293.8,1726.38 L291.8,1727.46 L289.8,1728.48 L287.8,1729.44Z M313,1691.07 L315,1689.7 L317,1688.33 L319,1686.98 L321,1685.64 L323,1684.33 L325,1683.04 L327,1681.79 L329,1680.58 L331,1679.41 L333,1678.29 L335,1677.23 L337,1676.22 L339,1675.28 L341,1674.41 L343,1673.6 L345,1672.87 L347,1672.22 L349,1671.64 L351,1671.15 L353,1670.75 L355,1670.43 L357,1670.2 L359,1670.05 L361,1670 L363,1670.03 L365,1670.15 L367,1670.35 L369,1670.63 L371,1671 L373,1671.44 L375,1671.97 L377,1672.56 L379,1673.24 L381,1673.98 L381.6,1674.22 L381.6,1697.22 L381,1696.98 L379,1696.24 L377,1695.56 L375,1694.97 L373,1694.44 L371,1694 L369,1693.63 L367,1693.35 L365,1693.15 L363,1693.03 L361,1693 L359,1693.05 L357,1693.2 L355,1693.43 L353,1693.75 L351,1694.15 L349,1694.64 L347,1695.22 L345,1695.87 L343,1696.6 L341,1697.41 L339,1698.28 L337,1699.22 L335,1700.23 L333,1701.29 L331,1702.41 L329,1703.58 L327,1704.79 L325,1706.04 L323,1707.33 L321,1708.64 L319,1709.98 L317,1711.33 L315,1712.7 L313,1714.07Z M392.6,1679.52 L394.6,1680.65 L396.6,1681.83 L398.6,1683.04 L400.6,1684.28 L402.6,1685.55 L404.6,1686.85 L406.6,1688.15 L408.6,1689.47 L410.6,1690.8 L412.6,1692.13 L414.6,1693.45 L416.6,1694.76 L418.6,1696.06 L420.6,1697.34 L422.6,1698.59 L424.6,1699.81 L426.6,1701 L428.6,1702.14 L430.6,1703.25 L432.6,1704.3 L434.6,1705.3 L436.6,1706.24 L438.6,1707.12 L440.6,1707.94 L442.6,1708.69 L444.6,1709.37 L446.6,1709.98 L448.6,1710.51 L450.6,1710.96 L452.6,1711.33 L454.6,1711.62 L456.6,1711.83 L458.6,1711.96 L460.6,1712 L461.2,1712 L461.2,1735 L460.6,1735 L458.6,1734.96 L456.6,1734.83 L454.6,1734.62 L452.6,1734.33 L450.6,1733.96 L448.6,1733.51 L446.6,1732.98 L444.6,1732.37 L442.6,1731.69 L440.6,1730.94 L438.6,1730.12 L436.6,1729.24 L434.6,1728.3 L432.6,1727.3 L430.6,1726.25 L428.6,1725.14 L426.6,1724 L424.6,1722.81 L422.6,1721.59 L420.6,1720.34 L418.6,1719.06 L416.6,1717.76 L414.6,1716.45 L412.6,1715.13 L410.6,1713.8 L408.6,1712.47 L406.6,1711.15 L404.6,1709.85 L402.6,1708.55 L400.6,1707.28 L398.6,1706.04 L396.6,1704.83 L394.6,1703.65 L392.6,1702.52Z M472.2,1710.76 L474.2,1710.31 L476.2,1709.78 L478.2,1709.19 L480.2,1708.54 L482.2,1707.82 L484.2,1707.04 L486.2,1706.21 L488.2,1705.32 L490.2,1704.38 L492.2,1703.4 L494.2,1702.37 L496.2,1701.3 L498.2,1700.2 L500.2,1699.06 L502.2,1697.89 L504.2,1696.7 L506.2,1695.49 L508.2,1694.26 L510.2,1693.03 L512.2,1691.78 L514.2,1690.53 L516.2,1689.29 L518.2,1688.05 L520.2,1686.82 L522.2,1685.6 L524.2,1684.4 L526.2,1683.23 L528.2,1682.09 L530.2,1680.97 L532.2,1679.89 L534.2,1678.85 L536.2,1677.86 L538.2,1676.91 L540.2,1676.01 L540.8,1675.75 L540.8,1698.75 L540.2,1699.01 L538.2,1699.91 L536.2,1700.86 L534.2,1701.85 L532.2,1702.89 L530.2,1703.97 L528.2,1705.09 L526.2,1706.23 L524.2,1707.4 L522.2,1708.6 L520.2,1709.82 L518.2,1711.05 L516.2,1712.29 L514.2,1713.53 L512.2,1714.78 L510.2,1716.03 L508.2,1717.26 L506.2,1718.49 L504.2,1719.7 L502.2,1720.89 L500.2,1722.06 L498.2,1723.2 L496.2,1724.3 L494.2,1725.37 L492.2,1726.4 L490.2,1727.38 L488.2,1728.32 L486.2,1729.21 L484.2,1730.04 L482.2,1730.82 L480.2,1731.54 L478.2,1732.19 L476.2,1732.78 L474.2,1733.31 L472.2,1733.76Z M551.8,1671.92 L553.8,1671.43 L555.8,1671.01 L557.8,1670.67 L559.8,1670.39 L561.8,1670.19 L563.8,1670.06 L565.8,1670 L567.8,1670.03 L569.8,1670.14 L571.8,1670.35 L573.8,1670.64 L575.8,1671.03 L577.8,1671.5 L579.8,1672.06 L581.8,1672.7 L583.8,1673.42 L585.8,1674.22 L587.8,1675.09 L589.8,1676.03 L591.8,1677.03 L593.8,1678.1 L595.8,1679.22 L597.8,1680.4 L599.8,1681.62 L601.8,1682.88 L603.8,1684.18 L605.8,1685.51 L607.8,1686.86 L609.8,1688.23 L611.8,1689.61 L613.8,1691 L615.8,1692.39 L617.8,1693.77 L619.8,1695.14 L620.4,1695.55 L620.4,1718.55 L619.8,1718.14 L617.8,1716.77 L615.8,1715.39 L613.8,1714 L611.8,1712.61 L609.8,1711.23 L607.8,1709.86 L605.8,1708.51 L603.8,1707.18 L601.8,1705.88 L599.8,1704.62 L597.8,1703.4 L595.8,1702.22 L593.8,1701.1 L591.8,1700.03 L589.8,1699.03 L587.8,1698.09 L585.8,1697.22 L583.8,1696.42 L581.8,1695.7 L579.8,1695.06 L577.8,1694.5 L575.8,1694.03 L573.8,1693.64 L571.8,1693.35 L569.8,1693.14 L567.8,1693.03 L565.8,1693 L563.8,1693.06 L561.8,1693.19 L559.8,1693.39 L557.8,1693.67 L555.8,1694.01 L553.8,1694.43 L551.8,1694.92Z M631.4,1702.54 L633.4,1703.68 L635.4,1704.76 L637.4,1705.78 L639.4,1706.73 L641.4,1707.61 L643.4,1708.43 L645.4,1709.16 L647.4,1709.82 L649.4,1710.39 L651.4,1710.88 L653.4,1711.29 L655.4,1711.6 L657.4,1711.83 L659.4,1711.96 L661.4,1712 L663.4,1711.95 L665.4,1711.8 L667.4,1711.55 L669.4,1711.22 L671.4,1710.79 L673.4,1710.27 L675.4,1709.66 L677.4,1708.96 L679.4,1708.19 L681.4,1707.33 L683.4,1706.4 L685.4,1705.4 L687.4,1704.34 L689.4,1703.21 L691.4,1702.03 L693.4,1700.8 L695.4,1699.52 L697.4,1698.2 L699.4,1696.85 L700,1696.44 L700,1719.44 L699.4,1719.85 L697.4,1721.2 L695.4,1722.52 L693.4,1723.8 L691.4,1725.03 L689.4,1726.21 L687.4,1727.34 L685.4,1728.4 L683.4,1729.4 L681.4,1730.33 L679.4,1731.19 L677.4,1731.96 L675.4,1732.66 L673.4,1733.27 L671.4,1733.79 L669.4,1734.22 L667.4,1734.55 L665.4,1734.8 L663.4,1734.95 L661.4,1735 L659.4,1734.96 L657.4,1734.83 L655.4,1734.6 L653.4,1734.29 L651.4,1733.88 L649.4,1733.39 L647.4,1732.82 L645.4,1732.16 L643.4,1731.43 L641.4,1730.61 L639.4,1729.73 L637.4,1728.78 L635.4,1727.76 L633.4,1726.68 L631.4,1725.54Z M711,1688.7 L713,1687.29 L715,1685.9 L717,1684.54 L719,1683.2 L721,1681.9 L723,1680.64 L725,1679.43 L727,1678.27 L729,1677.17 L731,1676.14 L733,1675.17 L735,1674.27 L737,1673.45 L739,1672.71 L741,1672.06 L743,1671.49 L745,1671.01 L747,1670.62 L749,1670.32 L751,1670.12 L753,1670.02 L755,1670.01 L757,1670.11 L759,1670.34 L761,1670.67 L763,1671.12 L765,1671.68 L767,1672.35 L769,1673.12 L771,1673.99 L773,1674.96 L775,1676.01 L777,1677.15 L779,1678.37 L779.6,1678.75 L779.6,1701.75 L779,1701.37 L777,1700.15 L775,1699.01 L773,1697.96 L771,1696.99 L769,1696.12 L767,1695.35 L765,1694.68 L763,1694.12 L761,1693.67 L759,1693.34 L757,1693.11 L755,1693.01 L753,1693.02 L751,1693.12 L749,1693.32 L747,1693.62 L745,1694.01 L743,1694.49 L741,1695.06 L739,1695.71 L737,1696.45 L735,1697.27 L733,1698.17 L731,1699.14 L729,1700.17 L727,1701.27 L725,1702.43 L723,1703.64 L721,1704.9 L719,1706.2 L717,1707.54 L715,1708.9 L713,1710.29 L711,1711.7Z M790.6,1686.57 L792.6,1688.11 L794.6,1689.67 L796.6,1691.24 L798.6,1692.8 L800.6,1694.35 L802.6,1695.89 L804.6,1697.4 L806.6,1698.87 L808.6,1700.3 L810.6,1701.68 L812.6,1703 L814.6,1704.25 L816.6,1705.43 L818.6,1706.53 L820.6,1707.54 L822.6,1708.46 L824.6,1709.28 L826.6,1710 L828.6,1710.61 L830.6,1711.12 L832.6,1711.51 L834.6,1711.79 L836.6,1711.95 L838.6,1712 L840.6,1711.95 L842.6,1711.81 L844.6,1711.6 L846.6,1711.3 L848.6,1710.92 L850.6,1710.46 L852.6,1709.92 L854.6,1709.3 L856.6,1708.61 L858.6,1707.86 L859.2,1707.61 L859.2,1730.61 L858.6,1730.86 L856.6,1731.61 L854.6,1732.3 L852.6,1732.92 L850.6,1733.46 L848.6,1733.92 L846.6,1734.3 L844.6,1734.6 L842.6,1734.81 L840.6,1734.95 L838.6,1735 L836.6,1734.95 L834.6,1734.79 L832.6,1734.51 L830.6,1734.12 L828.6,1733.61 L826.6,1733 L824.6,1732.28 L822.6,1731.46 L820.6,1730.54 L818.6,1729.53 L816.6,1728.43 L814.6,1727.25 L812.6,1726 L810.6,1724.68 L808.6,1723.3 L806.6,1721.87 L804.6,1720.4 L802.6,1718.89 L800.6,1717.35 L798.6,1715.8 L796.6,1714.24 L794.6,1712.67 L792.6,1711.11 L790.6,1709.57Z M870.2,1702.24 L872.2,1701.09 L874.2,1699.91 L876.2,1698.69 L878.2,1697.44 L880.2,1696.16 L882.2,1694.86 L884.2,1693.55 L886.2,1692.23 L888.2,1690.9 L890.2,1689.57 L892.2,1688.25 L894.2,1686.94 L896.2,1685.65 L898.2,1684.37 L900.2,1683.13 L902.2,1681.91 L904.2,1680.73 L906.2,1679.59 L908.2,1678.5 L910.2,1677.46 L912.2,1676.47 L914.2,1675.54 L916.2,1674.67 L918.2,1673.87 L920.2,1673.14 L922.2,1672.47 L924.2,1671.89 L926.2,1671.37 L928.2,1670.94 L930.2,1670.59 L932.2,1670.32 L934.2,1670.13 L936.2,1670.02 L938.2,1670 L938.8,1670.01 L938.8,1693.01 L938.2,1693 L936.2,1693.02 L934.2,1693.13 L932.2,1693.32 L930.2,1693.59 L928.2,1693.94 L926.2,1694.37 L924.2,1694.89 L922.2,1695.47 L920.2,1696.14 L918.2,1696.87 L916.2,1697.67 L914.2,1698.54 L912.2,1699.47 L910.2,1700.46 L908.2,1701.5 L906.2,1702.59 L904.2,1703.73 L902.2,1704.91 L900.2,1706.13 L898.2,1707.37 L896.2,1708.65 L894.2,1709.94 L892.2,1711.25 L890.2,1712.57 L888.2,1713.9 L886.2,1715.23 L884.2,1716.55 L882.2,1717.86 L880.2,1719.16 L878.2,1720.44 L876.2,1721.69 L874.2,1722.91 L872.2,1724.09 L870.2,1725.24Z M949.8,1671.4 L951.8,1671.89 L953.8,1672.45 L955.8,1673.08 L957.8,1673.78 L959.8,1674.54 L961.8,1675.36 L963.8,1676.24 L965.8,1677.17 L967.8,1678.16 L969.8,1679.19 L971.8,1680.26 L973.8,1681.38 L975.8,1682.52 L977.8,1683.7 L979.8,1684.91 L981.8,1686.14 L983.8,1687.39 L985.8,1688.65 L987.8,1689.92 L989.8,1691.19 L991.8,1692.46 L993.8,1693.73 L995.8,1694.99 L997.8,1696.23 L999.8,1697.45 L1001.8,1698.65 L1003.8,1699.82 L1005.8,1700.96 L1007.8,1702.06 L1009.8,1703.13 L1011.8,1704.14 L1013.8,1705.11 L1015.8,1706.03 L1017.8,1706.89 L1018.4,1707.14 L1018.4,1730.14 L1017.8,1729.89 L1015.8,1729.03 L1013.8,1728.11 L1011.8,1727.14 L1009.8,1726.13 L1007.8,1725.06 L1005.8,1723.96 L1003.8,1722.82 L1001.8,1721.65 L999.8,1720.45 L997.8,1719.23 L995.8,1717.99 L993.8,1716.73 L991.8,1715.46 L989.8,1714.19 L987.8,1712.92 L985.8,1711.65 L983.8,1710.39 L981.8,1709.14 L979.8,1707.91 L977.8,1706.7 L975.8,1705.52 L973.8,1704.38 L971.8,1703.26 L969.8,1702.19 L967.8,1701.16 L965.8,1700.17 L963.8,1699.24 L961.8,1698.36 L959.8,1697.54 L957.8,1696.78 L955.8,1696.08 L953.8,1695.45 L951.8,1694.89 L949.8,1694.4Z M1029.4,1710.65 L1031.4,1711.06 L1033.4,1711.4 L1035.4,1711.66 L1037.4,1711.85 L1039.4,1711.97 L1041.4,1712 L1043.4,1711.95 L1045.4,1711.81 L1047.4,1711.58 L1049.4,1711.27 L1051.4,1710.87 L1053.4,1710.38 L1055.4,1709.81 L1057.4,1709.16 L1059.4,1708.44 L1061.4,1707.64 L1063.4,1706.76 L1065.4,1705.82 L1067.4,1704.82 L1069.4,1703.76 L1071.4,1702.65 L1073.4,1701.48 L1075.4,1700.27 L1077.4,1699.02 L1079.4,1697.74 L1081.4,1696.42 L1083.4,1695.09 L1085.4,1693.74 L1087.4,1692.37 L1089.4,1691 L1091.4,1689.63 L1093.4,1688.26 L1095.4,1686.91 L1097.4,1685.58 L1098,1685.18 L1098,1708.18 L1097.4,1708.58 L1095.4,1709.91 L1093.4,1711.26 L1091.4,1712.63 L1089.4,1714 L1087.4,1715.37 L1085.4,1716.74 L1083.4,1718.09 L1081.4,1719.42 L1079.4,1720.74 L1077.4,1722.02 L1075.4,1723.27 L1073.4,1724.48 L1071.4,1725.65 L1069.4,1726.76 L1067.4,1727.82 L1065.4,1728.82 L1063.4,1729.76 L1061.4,1730.64 L1059.4,1731.44 L1057.4,1732.16 L1055.4,1732.81 L1053.4,1733.38 L1051.4,1733.87 L1049.4,1734.27 L1047.4,1734.58 L1045.4,1734.81 L1043.4,1734.95 L1041.4,1735 L1039.4,1734.97 L1037.4,1734.85 L1035.4,1734.66 L1033.4,1734.4 L1031.4,1734.06 L1029.4,1733.65Z M1109,1678.46 L1111,1677.39 L1113,1676.37 L1115,1675.42 L1117,1674.53 L1119,1673.72 L1121,1672.98 L1123,1672.31 L1125,1671.73 L1127,1671.22 L1129,1670.8 L1131,1670.47 L1133,1670.23 L1135,1670.07 L1137,1670 L1139,1670.03 L1141,1670.14 L1143,1670.35 L1145,1670.64 L1147,1671.03 L1149,1671.5 L1151,1672.06 L1153,1672.7 L1155,1673.42 L1157,1674.22 L1159,1675.09 L1161,1676.03 L1163,1677.03 L1165,1678.1 L1167,1679.22 L1169,1680.4 L1171,1681.62 L1173,1682.88 L1175,1684.18 L1177,1685.51 L1177.6,1685.91 L1177.6,1708.91 L1177,1708.51 L1175,1707.18 L1173,1705.88 L1171,1704.62 L1169,1703.4 L1167,1702.22 L1165,1701.1 L1163,1700.03 L1161,1699.03 L1159,1698.09 L1157,1697.22 L1155,1696.42 L1153,1695.7 L1151,1695.06 L1149,1694.5 L1147,1694.03 L1145,1693.64 L1143,1693.35 L1141,1693.14 L1139,1693.03 L1137,1693 L1135,1693.07 L1133,1693.23 L1131,1693.47 L1129,1693.8 L1127,1694.22 L1125,1694.73 L1123,1695.31 L1121,1695.98 L1119,1696.72 L1117,1697.53 L1115,1698.42 L1113,1699.37 L1111,1700.39 L1109,1701.46Z M1188.6,1693.49 L1190.6,1694.87 L1192.6,1696.22 L1194.6,1697.56 L1196.6,1698.86 L1198.6,1700.13 L1200.6,1701.36 L1202.6,1702.54 L1204.6,1703.68 L1206.6,1704.76 L1208.6,1705.78 L1210.6,1706.73 L1212.6,1707.61 L1214.6,1708.43 L1216.6,1709.16 L1218.6,1709.82 L1220.6,1710.39 L1222.6,1710.88 L1224.6,1711.29 L1226.6,1711.6 L1228.6,1711.83 L1230.6,1711.96 L1232.6,1712 L1234.6,1711.95 L1236.6,1711.82 L1238.6,1711.61 L1240.6,1711.31 L1242.6,1710.94 L1244.6,1710.48 L1246.6,1709.94 L1248.6,1709.33 L1250.6,1708.65 L1252.6,1707.9 L1254.6,1707.07 L1256.6,1706.19 L1257.2,1705.91 L1257.2,1728.91 L1256.6,1729.19 L1254.6,1730.07 L1252.6,1730.9 L1250.6,1731.65 L1248.6,1732.33 L1246.6,1732.94 L1244.6,1733.48 L1242.6,1733.94 L1240.6,1734.31 L1238.6,1734.61 L1236.6,1734.82 L1234.6,1734.95 L1232.6,1735 L1230.6,1734.96 L1228.6,1734.83 L1226.6,1734.6 L1224.6,1734.29 L1222.6,1733.88 L1220.6,1733.39 L1218.6,1732.82 L1216.6,1732.16 L1214.6,1731.43 L1212.6,1730.61 L1210.6,1729.73 L1208.6,1728.78 L1206.6,1727.76 L1204.6,1726.68 L1202.6,1725.54 L1200.6,1724.36 L1198.6,1723.13 L1196.6,1721.86 L1194.6,1720.56 L1192.6,1719.22 L1190.6,1717.87 L1188.6,1716.49Z M1268.2,1699.97 L1270.2,1698.75 L1272.2,1697.5 L1274.2,1696.23 L1276.2,1694.93 L1278.2,1693.62 L1280.2,1692.29 L1282.2,1690.97 L1284.2,1689.64 L1286.2,1688.32 L1288.2,1687 L1290.2,1685.71 L1292.2,1684.43 L1294.2,1683.19 L1296.2,1681.97 L1298.2,1680.79 L1300.2,1679.65 L1302.2,1678.55 L1304.2,1677.51 L1306.2,1676.52 L1308.2,1675.59 L1310.2,1674.72 L1312.2,1673.91 L1314.2,1673.17 L1316.2,1672.51 L1318.2,1671.91 L1320.2,1671.4 L1322.2,1670.96 L1324.2,1670.6 L1326.2,1670.33 L1328.2,1670.14 L1330.2,1670.03 L1332.2,1670 L1334.2,1670.06 L1336.2,1670.2 L1336.8,1670.26 L1336.8,1693.26 L1336.2,1693.2 L1334.2,1693.06 L1332.2,1693 L1330.2,1693.03 L1328.2,1693.14 L1326.2,1693.33 L1324.2,1693.6 L1322.2,1693.96 L1320.2,1694.4 L1318.2,1694.91 L1316.2,1695.51 L1314.2,1696.17 L1312.2,1696.91 L1310.2,1697.72 L1308.2,1698.59 L1306.2,1699.52 L1304.2,1700.51 L1302.2,1701.55 L1300.2,1702.65 L1298.2,1703.79 L1296.2,1704.97 L1294.2,1706.19 L1292.2,1707.43 L1290.2,1708.71 L1288.2,1710 L1286.2,1711.32 L1284.2,1712.64 L1282.2,1713.97 L1280.2,1715.29 L1278.2,1716.62 L1276.2,1717.93 L1274.2,1719.23 L1272.2,1720.5 L1270.2,1721.75 L1268.2,1722.97Z M1347.8,1672.63 L1349.8,1673.31 L1351.8,1674.07 L1353.8,1674.88 L1355.8,1675.77 L1357.8,1676.71 L1359.8,1677.71 L1361.8,1678.77 L1363.8,1679.87 L1365.8,1681.02 L1367.8,1682.21 L1369.8,1683.43 L1371.8,1684.69 L1373.8,1685.97 L1375.8,1687.27 L1377.8,1688.58 L1379.8,1689.9 L1381.8,1691.23 L1383.8,1692.56 L1385.8,1693.88 L1387.8,1695.19 L1389.8,1696.48 L1391.8,1697.75 L1393.8,1699 L1395.8,1700.21 L1397.8,1701.38 L1399.8,1702.52 L1401.8,1703.61 L1403.8,1704.64 L1405.8,1705.62 L1407.8,1706.55 L1409.8,1707.41 L1411.8,1708.21 L1413.8,1708.93 L1415.8,1709.59 L1416.4,1709.77 L1416.4,1732.77 L1415.8,1732.59 L1413.8,1731.93 L1411.8,1731.21 L1409.8,1730.41 L1407.8,1729.55 L1405.8,1728.62 L1403.8,1727.64 L1401.8,1726.61 L1399.8,1725.52 L1397.8,1724.38 L1395.8,1723.21 L1393.8,1722 L1391.8,1720.75 L1389.8,1719.48 L1387.8,1718.19 L1385.8,1716.88 L1383.8,1715.56 L1381.8,1714.23 L1379.8,1712.9 L1377.8,1711.58 L1375.8,1710.27 L1373.8,1708.97 L1371.8,1707.69 L1369.8,1706.43 L1367.8,1705.21 L1365.8,1704.02 L1363.8,1702.87 L1361.8,1701.77 L1359.8,1700.71 L1357.8,1699.71 L1355.8,1698.77 L1353.8,1697.88 L1351.8,1697.07 L1349.8,1696.31 L1347.8,1695.63Z M1427.4,1711.86 L1429.4,1711.97 L1431.4,1712 L1433.4,1711.93 L1435.4,1711.77 L1437.4,1711.5 L1439.4,1711.14 L1441.4,1710.68 L1443.4,1710.12 L1445.4,1709.48 L1447.4,1708.74 L1449.4,1707.92 L1451.4,1707.02 L1453.4,1706.04 L1455.4,1704.99 L1457.4,1703.87 L1459.4,1702.69 L1461.4,1701.46 L1463.4,1700.17 L1465.4,1698.84 L1467.4,1697.48 L1469.4,1696.08 L1471.4,1694.65 L1473.4,1693.21 L1475.4,1691.76 L1477.4,1690.31 L1479.4,1688.86 L1481.4,1687.42 L1483.4,1685.99 L1485.4,1684.59 L1487.4,1683.22 L1489.4,1681.89 L1491.4,1680.61 L1493.4,1679.37 L1495.4,1678.18 L1496,1677.84 L1496,1700.84 L1495.4,1701.18 L1493.4,1702.37 L1491.4,1703.61 L1489.4,1704.89 L1487.4,1706.22 L1485.4,1707.59 L1483.4,1708.99 L1481.4,1710.42 L1479.4,1711.86 L1477.4,1713.31 L1475.4,1714.76 L1473.4,1716.21 L1471.4,1717.65 L1469.4,1719.08 L1467.4,1720.48 L1465.4,1721.84 L1463.4,1723.17 L1461.4,1724.46 L1459.4,1725.69 L1457.4,1726.87 L1455.4,1727.99 L1453.4,1729.04 L1451.4,1730.02 L1449.4,1730.92 L1447.4,1731.74 L1445.4,1732.48 L1443.4,1733.12 L1441.4,1733.68 L1439.4,1734.14 L1437.4,1734.5 L1435.4,1734.77 L1433.4,1734.93 L1431.4,1735 L1429.4,1734.97 L1427.4,1734.86Z M1507,1672.7 L1509,1672.03 L1511,1671.45 L1513,1670.97 L1515,1670.58 L1517,1670.29 L1519,1670.1 L1521,1670.01 L1523,1670.02 L1525,1670.11 L1527,1670.28 L1529,1670.54 L1531,1670.88 L1533,1671.3 L1535,1671.8 L1537,1672.38 L1539,1673.03 L1541,1673.76 L1543,1674.55 L1545,1675.41 L1547,1676.33 L1549,1677.31 L1551,1678.34 L1553,1679.43 L1555,1680.56 L1557,1681.73 L1559,1682.94 L1561,1684.18 L1563,1685.45 L1565,1686.74 L1567,1688.05 L1569,1689.37 L1571,1690.7 L1573,1692.03 L1575,1693.35 L1575.6,1693.75 L1575.6,1716.75 L1575,1716.35 L1573,1715.03 L1571,1713.7 L1569,1712.37 L1567,1711.05 L1565,1709.74 L1563,1708.45 L1561,1707.18 L1559,1705.94 L1557,1704.73 L1555,1703.56 L1553,1702.43 L1551,1701.34 L1549,1700.31 L1547,1699.33 L1545,1698.41 L1543,1697.55 L1541,1696.76 L1539,1696.03 L1537,1695.38 L1535,1694.8 L1533,1694.3 L1531,1693.88 L1529,1693.54 L1527,1693.28 L1525,1693.11 L1523,1693.02 L1521,1693.01 L1519,1693.1 L1517,1693.29 L1515,1693.58 L1513,1693.97 L1511,1694.45 L1509,1695.03 L1507,1695.7Z M1586.6,1700.68 L1588.6,1701.84 L1590.6,1702.96 L1592.6,1704.03 L1594.6,1705.04 L1596.6,1706 L1598.6,1706.9 L1600.6,1707.74 L1602.6,1708.5 L1604.6,1709.2 L1606.6,1709.83 L1608.6,1710.38 L1610.6,1710.85 L1612.6,1711.25 L1614.6,1711.56 L1616.6,1711.79 L1618.6,1711.93 L1620.6,1712 L1622.6,1711.97 L1624.6,1711.86 L1626.6,1711.65 L1628.6,1711.36 L1630.6,1710.97 L1632.6,1710.5 L1634.6,1709.94 L1636.6,1709.3 L1638.6,1708.58 L1640.6,1707.78 L1642.6,1706.91 L1644.6,1705.97 L1646.6,1704.97 L1648.6,1703.9 L1650.6,1702.78 L1652.6,1701.6 L1654.6,1700.38 L1655.2,1700 L1655.2,1723 L1654.6,1723.38 L1652.6,1724.6 L1650.6,1725.78 L1648.6,1726.9 L1646.6,1727.97 L1644.6,1728.97 L1642.6,1729.91 L1640.6,1730.78 L1638.6,1731.58 L1636.6,1732.3 L1634.6,1732.94 L1632.6,1733.5 L1630.6,1733.97 L1628.6,1734.36 L1626.6,1734.65 L1624.6,1734.86 L1622.6,1734.97 L1620.6,1735 L1618.6,1734.93 L1616.6,1734.79 L1614.6,1734.56 L1612.6,1734.25 L1610.6,1733.85 L1608.6,1733.38 L1606.6,1732.83 L1604.6,1732.2 L1602.6,1731.5 L1600.6,1730.74 L1598.6,1729.9 L1596.6,1729 L1594.6,1728.04 L1592.6,1727.03 L1590.6,1725.96 L1588.6,1724.84 L1586.6,1723.68Z M1666.2,1692.66 L1668.2,1691.28 L1670.2,1689.89 L1672.2,1688.51 L1674.2,1687.13 L1676.2,1685.78 L1678.2,1684.44 L1680.2,1683.14 L1682.2,1681.87 L1684.2,1680.64 L1686.2,1679.46 L1688.2,1678.32 L1690.2,1677.24 L1692.2,1676.22 L1694.2,1675.27 L1696.2,1674.39 L1698.2,1673.57 L1700.2,1672.84 L1702.2,1672.18 L1704.2,1671.61 L1706.2,1671.12 L1708.2,1670.71 L1710.2,1670.4 L1712.2,1670.17 L1714.2,1670.04 L1716.2,1670 L1718.2,1670.05 L1720.2,1670.18 L1722.2,1670.39 L1724.2,1670.69 L1726.2,1671.06 L1728.2,1671.52 L1730.2,1672.06 L1732.2,1672.67 L1734.2,1673.35 L1734.8,1673.57 L1734.8,1696.57 L1734.2,1696.35 L1732.2,1695.67 L1730.2,1695.06 L1728.2,1694.52 L1726.2,1694.06 L1724.2,1693.69 L1722.2,1693.39 L1720.2,1693.18 L1718.2,1693.05 L1716.2,1693 L1714.2,1693.04 L1712.2,1693.17 L1710.2,1693.4 L1708.2,1693.71 L1706.2,1694.12 L1704.2,1694.61 L1702.2,1695.18 L1700.2,1695.84 L1698.2,1696.57 L1696.2,1697.39 L1694.2,1698.27 L1692.2,1699.22 L1690.2,1700.24 L1688.2,1701.32 L1686.2,1702.46 L1684.2,1703.64 L1682.2,1704.87 L1680.2,1706.14 L1678.2,1707.44 L1676.2,1708.78 L1674.2,1710.13 L1672.2,1711.51 L1670.2,1712.89 L1668.2,1714.28 L1666.2,1715.66Z M1745.8,1678.61 L1747.8,1679.71 L1749.8,1680.85 L1751.8,1682.03 L1753.8,1683.25 L1755.8,1684.5 L1757.8,1685.77 L1759.8,1687.07 L1761.8,1688.38 L1763.8,1689.71 L1765.8,1691.03 L1767.8,1692.36 L1769.8,1693.68 L1771.8,1695 L1773.8,1696.29 L1775.8,1697.57 L1777.8,1698.81 L1779.8,1700.03 L1781.8,1701.21 L1783.8,1702.35 L1785.8,1703.45 L1787.8,1704.49 L1789.8,1705.48 L1791.8,1706.41 L1793.8,1707.28 L1795.8,1708.09 L1797.8,1708.83 L1799.8,1709.49 L1801.8,1710.09 L1803.8,1710.6 L1805.8,1711.04 L1807.8,1711.4 L1809.8,1711.67 L1811.8,1711.86 L1813.8,1711.97 L1814.4,1711.99 L1814.4,1734.99 L1813.8,1734.97 L1811.8,1734.86 L1809.8,1734.67 L1807.8,1734.4 L1805.8,1734.04 L1803.8,1733.6 L1801.8,1733.09 L1799.8,1732.49 L1797.8,1731.83 L1795.8,1731.09 L1793.8,1730.28 L1791.8,1729.41 L1789.8,1728.48 L1787.8,1727.49 L1785.8,1726.45 L1783.8,1725.35 L1781.8,1724.21 L1779.8,1723.03 L1777.8,1721.81 L1775.8,1720.57 L1773.8,1719.29 L1771.8,1718 L1769.8,1716.68 L1767.8,1715.36 L1765.8,1714.03 L1763.8,1712.71 L1761.8,1711.38 L1759.8,1710.07 L1757.8,1708.77 L1755.8,1707.5 L1753.8,1706.25 L1751.8,1705.03 L1749.8,1703.85 L1747.8,1702.71 L1745.8,1701.61Z M1825.4,1710.85 L1827.4,1710.35 L1829.4,1709.77 L1831.4,1709.1 L1833.4,1708.36 L1835.4,1707.54 L1837.4,1706.64 L1839.4,1705.68 L1841.4,1704.65 L1843.4,1703.56 L1845.4,1702.41 L1847.4,1701.22 L1849.4,1699.98 L1851.4,1698.7 L1853.4,1697.38 L1855.4,1696.04 L1857.4,1694.68 L1859.4,1693.3 L1861.4,1691.91 L1863.4,1690.51 L1865.4,1689.12 L1867.4,1687.74 L1869.4,1686.37 L1871.4,1685.02 L1873.4,1683.69 L1875.4,1682.4 L1877.4,1681.15 L1879.4,1679.94 L1881.4,1678.78 L1883.4,1677.67 L1885.4,1676.63 L1887.4,1675.64 L1889.4,1674.73 L1891.4,1673.88 L1893.4,1673.11 L1895.4,1672.42 L1896.2,1672.17 L1896.2,1695.17 L1895.4,1695.42 L1893.4,1696.11 L1891.4,1696.88 L1889.4,1697.73 L1887.4,1698.64 L1885.4,1699.63 L1883.4,1700.67 L1881.4,1701.78 L1879.4,1702.94 L1877.4,1704.15 L1875.4,1705.4 L1873.4,1706.69 L1871.4,1708.02 L1869.4,1709.37 L1867.4,1710.74 L1865.4,1712.12 L1863.4,1713.51 L1861.4,1714.91 L1859.4,1716.3 L1857.4,1717.68 L1855.4,1719.04 L1853.4,1720.38 L1851.4,1721.7 L1849.4,1722.98 L1847.4,1724.22 L1845.4,1725.41 L1843.4,1726.56 L1841.4,1727.65 L1839.4,1728.68 L1837.4,1729.64 L1835.4,1730.54 L1833.4,1731.36 L1831.4,1732.1 L1829.4,1732.77 L1827.4,1733.35 L1825.4,1733.85Z" fill="rgb(176,31,0)" filter="url(#bb3)"/></g>
<rect x="294" y="1084" width="5.8" height="1145.5" fill="#262626"/>
<rect x="294" y="1084" width="1597" height="6" fill="#262626"/>
<rect x="1884.2" y="1084" width="6.8" height="1147.7" fill="#262626"/>
<rect x="297" y="2227" width="1594" height="4.7" fill="#262626"/>
<rect x="692.1" y="2214" width="5.8" height="13" fill="#262626"/>
<rect x="692.1" y="1090" width="5.8" height="13" fill="#262626"/>
<rect x="1089.1" y="2214" width="5.8" height="13" fill="#262626"/>
<rect x="1089.1" y="1090" width="5.8" height="13" fill="#262626"/>
<rect x="1486.1" y="2214" width="5.8" height="13" fill="#262626"/>
<rect x="1486.1" y="1090" width="5.8" height="13" fill="#262626"/>
<rect x="299.8" y="1317.45" width="16" height="5.5" fill="#262626"/>
<rect x="1868.2" y="1317.45" width="16" height="5.5" fill="#262626"/>
<rect x="299.8" y="1550.65" width="16" height="5.5" fill="#262626"/>
<rect x="1868.2" y="1550.65" width="16" height="5.5" fill="#262626"/>
<rect x="299.8" y="1783.85" width="16" height="5.5" fill="#262626"/>
<rect x="1868.2" y="1783.85" width="16" height="5.5" fill="#262626"/>
<rect x="299.8" y="2017.05" width="16" height="5.5" fill="#262626"/>
<rect x="1868.2" y="2017.05" width="16" height="5.5" fill="#262626"/>
<rect x="2005" y="1088.9" width="86" height="16" fill="#800000"/>
<rect x="2005" y="1104.3" width="86" height="18.52" fill="#8f0000"/>
<rect x="2005" y="1122.22" width="86" height="18.52" fill="#9f0000"/>
<rect x="2005" y="1140.14" width="86" height="18.52" fill="#af0000"/>
<rect x="2005" y="1158.06" width="86" height="18.52" fill="#bf0000"/>
<rect x="2005" y="1175.98" width="86" height="18.52" fill="#cf0000"/>
<rect x="2005" y="1193.9" width="86" height="18.52" fill="#df0000"/>
<rect x="2005" y="1211.82" width="86" height="18.52" fill="#ef0000"/>
<rect x="2005" y="1229.74" width="86" height="18.52" fill="#ff0000"/>
<rect x="2005" y="1247.65" width="86" height="18.52" fill="#ff1000"/>
<rect x="2005" y="1265.57" width="86" height="18.52" fill="#ff2000"/>
<rect x="2005" y="1283.49" width="86" height="18.52" fill="#ff3000"/>
<rect x="2005" y="1301.41" width="86" height="18.52" fill="#ff4000"/>
<rect x="2005" y="1319.33" width="86" height="18.52" fill="#ff5000"/>
<rect x="2005" y="1337.25" width="86" height="18.52" fill="#ff6000"/>
<rect x="2005" y="1355.17" width="86" height="18.52" fill="#ff7000"/>
<rect x="2005" y="1373.09" width="86" height="18.52" fill="#ff8000"/>
<rect x="2005" y="1391.01" width="86" height="18.52" fill="#ff8f00"/>
<rect x="2005" y="1408.93" width="86" height="18.52" fill="#ff9f00"/>
<rect x="2005" y="1426.85" width="86" height="18.52" fill="#ffaf00"/>
<rect x="2005" y="1444.77" width="86" height="18.52" fill="#ffbf00"/>
<rect x="2005" y="1462.69" width="86" height="18.52" fill="#ffcf00"/>
<rect x="2005" y="1480.61" width="86" height="18.52" fill="#ffdf00"/>
<rect x="2005" y="1498.53" width="86" height="18.52" fill="#ffef00"/>
<rect x="2005" y="1516.45" width="86" height="18.52" fill="#ffff00"/>
<rect x="2005" y="1534.36" width="86" height="18.52" fill="#efff10"/>
<rect x="2005" y="1552.28" width="86" height="18.52" fill="#dfff20"/>
<rect x="2005" y="1570.2" width="86" height="18.52" fill="#cfff30"/>
<rect x="2005" y="1588.12" width="86" height="18.52" fill="#bfff40"/>
<rect x="2005" y="1606.04" width="86" height="18.52" fill="#afff50"/>
<rect x="2005" y="1623.96" width="86" height="18.52" fill="#9fff60"/>
<rect x="2005" y="1641.88" width="86" height="18.52" fill="#8fff70"/>
<rect x="2005" y="1659.8" width="86" height="18.52" fill="#80ff80"/>
<rect x="2005" y="1677.72" width="86" height="18.52" fill="#70ff8f"/>
<rect x="2005" y="1695.64" width="86" height="18.52" fill="#60ff9f"/>
<rect x="2005" y="1713.56" width="86" height="18.52" fill="#50ffaf"/>
<rect x="2005" y="1731.48" width="86" height="18.52" fill="#40ffbf"/>
<rect x="2005" y="1749.4" width="86" height="18.52" fill="#30ffcf"/>
<rect x="2005" y="1767.32" width="86" height="18.52" fill="#20ffdf"/>
<rect x="2005" y="1785.24" width="86" height="18.52" fill="#10ffef"/>
<rect x="2005" y="1803.15" width="86" height="18.52" fill="#00ffff"/>
<rect x="2005" y="1821.07" width="86" height="18.52" fill="#00efff"/>
<rect x="2005" y="1838.99" width="86" height="18.52" fill="#00dfff"/>
<rect x="2005" y="1856.91" width="86" height="18.52" fill="#00cfff"/>
<rect x="2005" y="1874.83" width="86" height="18.52" fill="#00bfff"/>
<rect x="2005" y="1892.75" width="86" height="18.52" fill="#00afff"/>
<rect x="2005" y="1910.67" width="86" height="18.52" fill="#009fff"/>
<rect x="2005" y="1928.59" width="86" height="18.52" fill="#008fff"/>
<rect x="2005" y="1946.51" width="86" height="18.52" fill="#0080ff"/>
<rect x="2005" y="1964.43" width="86" height="18.52" fill="#0070ff"/>
<rect x="2005" y="1982.35" width="86" height="18.52" fill="#0060ff"/>
<rect x="2005" y="2000.27" width="86" height="18.52" fill="#0050ff"/>
<rect x="2005" y="2018.19" width="86" height="18.52" fill="#0040ff"/>
<rect x="2005" y="2036.11" width="86" height="18.52" fill="#0030ff"/>
<rect x="2005" y="2054.03" width="86" height="18.52" fill="#0020ff"/>
<rect x="2005" y="2071.95" width="86" height="18.52" fill="#0010ff"/>
<rect x="2005" y="2089.86" width="86" height="18.52" fill="#0000ff"/>
<rect x="2005" y="2107.78" width="86" height="18.52" fill="#0000ef"/>
<rect x="2005" y="2125.7" width="86" height="18.52" fill="#0000df"/>
<rect x="2005" y="2143.62" width="86" height="18.52" fill="#0000cf"/>
<rect x="2005" y="2161.54" width="86" height="18.52" fill="#0000bf"/>
<rect x="2005" y="2179.46" width="86" height="18.52" fill="#0000af"/>
<rect x="2005" y="2197.38" width="86" height="18.52" fill="#00009f"/>
<rect x="2005" y="2215.3" width="86" height="16" fill="#00008f"/>
<rect x="2001.1" y="1086.1" width="93.7" height="2.8" fill="#262626"/>
<rect x="2001.1" y="2230.7" width="93.7" height="2.5" fill="#262626"/>
<rect x="2001.1" y="1086.1" width="3.9" height="1147.1" fill="#262626"/>
<rect x="2091" y="1086.1" width="3.8" height="1147.1" fill="#262626"/>
<rect x="2077" y="1203.95" width="14" height="3.9" fill="#262626"/>
<rect x="2077" y="1356.68" width="14" height="3.9" fill="#262626"/>
<rect x="2077" y="1509.42" width="14" height="3.9" fill="#262626"/>
<rect x="2077" y="1662.15" width="14" height="3.9" fill="#262626"/>
<rect x="2077" y="1814.88" width="14" height="3.9" fill="#262626"/>
<rect x="2077" y="1967.62" width="14" height="3.9" fill="#262626"/>
<rect x="2077" y="2120.35" width="14" height="3.9" fill="#262626"/></g>
<g id="text"><text transform="translate(242.62 82.46) scale(0.9552 1)" font-family="'Liberation Serif', 'Times New Roman', serif" font-weight="bold" font-size="92.24" fill="#262626" stroke="#262626" stroke-width="1.2">40</text>
<text transform="translate(242.62 361.66) scale(0.9552 1)" font-family="'Liberation Serif', 'Times New Roman', serif" font-weight="bold" font-size="92.24" fill="#262626" stroke="#262626" stroke-width="1.2">20</text>
<text transform="translate(285.77 640.76) scale(0.9552 1)" font-family="'Liberation Serif', 'Times New Roman', serif" font-weight="bold" font-size="92.24" fill="#262626" stroke="#262626" stroke-width="1.2">0</text>
<text transform="translate(670.85 726.35) scale(0.9871 1)" font-family="'Liberation Serif', 'Times New Roman', serif" font-weight="bold" font-size="92.39" fill="#262626" stroke="#262626" stroke-width="1.2">20</text>
<text transform="translate(1067.27 726.35) scale(0.9871 1)" font-family="'Liberation Serif', 'Times New Roman', serif" font-weight="bold" font-size="92.39" fill="#262626" stroke="#262626" stroke-width="1.2">40</text>
<text transform="translate(1460.86 726.35) scale(0.9871 1)" font-family="'Liberation Serif', 'Times New Roman', serif" font-weight="bold" font-size="92.39" fill="#262626" stroke="#262626" stroke-width="1.2">60</text>
<text transform="translate(1855.36 726.35) scale(0.9871 1)" font-family="'Liberation Serif', 'Times New Roman', serif" font-weight="bold" font-size="92.39" fill="#262626" stroke="#262626" stroke-width="1.2">80</text>
<text transform="translate(2224.78 727.28) scale(0.9871 1)" font-family="'Liberation Serif', 'Times New Roman', serif" font-weight="bold" font-size="92.39" fill="#262626" stroke="#262626" stroke-width="1.2">100</text>
<text transform="translate(980.51 850.7) scale(1.0084 1)" font-family="'Liberation Serif', 'Times New Roman', serif" font-weight="bold" font-size="98.56" fill="#262626" stroke="#262626" stroke-width="1.2">Frequency(kHz)</text>
<text transform="translate(195.49 638.11) rotate(-90) scale(1 0.9222)" font-family="'Liberation Serif', 'Times New Roman', serif" font-weight="bold" font-size="102.29" fill="#262626" stroke="#262626" stroke-width="1.2">Current (mA)</text>
<text transform="translate(1158.43 1008.8) scale(0.9434 1)" font-family="'Liberation Serif', 'Times New Roman', serif" font-weight="normal" font-size="86.67" fill="#000">(<tspan font-weight="bold">a</tspan>)</text>
<text transform="translate(133.84 1109.46) scale(1.2089 1)" font-family="'Liberation Sans', Arial, Helvetica, sans-serif" font-weight="bold" font-size="64.23" fill="#262626" stroke="#262626" stroke-width="1.2">100</text>
<text transform="translate(180.32 1342.76) scale(1.2089 1)" font-family="'Liberation Sans', Arial, Helvetica, sans-serif" font-weight="bold" font-size="64.23" fill="#262626" stroke="#262626" stroke-width="1.2">80</text>
<text transform="translate(180.32 1575.96) scale(1.2089 1)" font-family="'Liberation Sans', Arial, Helvetica, sans-serif" font-weight="bold" font-size="64.23" fill="#262626" stroke="#262626" stroke-width="1.2">60</text>
<text transform="translate(180.32 1809.16) scale(1.2089 1)" font-family="'Liberation Sans', Arial, Helvetica, sans-serif" font-weight="bold" font-size="64.23" fill="#262626" stroke="#262626" stroke-width="1.2">40</text>
<text transform="translate(180.32 2042.36) scale(1.2089 1)" font-family="'Liberation Sans', Arial, Helvetica, sans-serif" font-weight="bold" font-size="64.23" fill="#262626" stroke="#262626" stroke-width="1.2">20</text>
<text transform="translate(273.05 2315.17) scale(1.2589 1)" font-family="'Liberation Sans', Arial, Helvetica, sans-serif" font-weight="bold" font-size="62.54" fill="#262626" stroke="#262626" stroke-width="1.2">0</text>
<text transform="translate(650.3 2316.06) scale(1.2089 1)" font-family="'Liberation Sans', Arial, Helvetica, sans-serif" font-weight="bold" font-size="64.23" fill="#262626" stroke="#262626" stroke-width="1.2">50</text>
<text transform="translate(1024.39 2316.06) scale(1.2089 1)" font-family="'Liberation Sans', Arial, Helvetica, sans-serif" font-weight="bold" font-size="64.23" fill="#262626" stroke="#262626" stroke-width="1.2">100</text>
<text transform="translate(1421.39 2316.06) scale(1.2089 1)" font-family="'Liberation Sans', Arial, Helvetica, sans-serif" font-weight="bold" font-size="64.23" fill="#262626" stroke="#262626" stroke-width="1.2">150</text>
<text transform="translate(1819.56 2316.06) scale(1.2089 1)" font-family="'Liberation Sans', Arial, Helvetica, sans-serif" font-weight="bold" font-size="64.23" fill="#262626" stroke="#262626" stroke-width="1.2">200</text>
<text transform="translate(885.53 2408.69) scale(1.2927 1)" font-family="'Liberation Sans', Arial, Helvetica, sans-serif" font-weight="bold" font-size="67.66" fill="#262626" stroke="#262626" stroke-width="1.2">Time (ms)</text>
<text transform="translate(91.66 1934.34) rotate(-90) scale(1 1.2093)" font-family="'Liberation Sans', Arial, Helvetica, sans-serif" font-weight="bold" font-size="70.64" fill="#262626" stroke="#262626" stroke-width="1.2">Frequency (kHz)</text>
<text transform="translate(2119.58 1226.33) scale(1.2410 1)" font-family="'Liberation Sans', Arial, Helvetica, sans-serif" font-weight="bold" font-size="56.76" fill="#262626" stroke="#262626" stroke-width="1.2">-20</text>
<text transform="translate(2119.58 1379.02) scale(1.2410 1)" font-family="'Liberation Sans', Arial, Helvetica, sans-serif" font-weight="bold" font-size="56.76" fill="#262626" stroke="#262626" stroke-width="1.2">-40</text>
<text transform="translate(2119.58 1531.75) scale(1.2410 1)" font-family="'Liberation Sans', Arial, Helvetica, sans-serif" font-weight="bold" font-size="56.76" fill="#262626" stroke="#262626" stroke-width="1.2">-60</text>
<text transform="translate(2119.58 1684.48) scale(1.2410 1)" font-family="'Liberation Sans', Arial, Helvetica, sans-serif" font-weight="bold" font-size="56.76" fill="#262626" stroke="#262626" stroke-width="1.2">-80</text>
<text transform="translate(2119.58 1837.22) scale(1.2410 1)" font-family="'Liberation Sans', Arial, Helvetica, sans-serif" font-weight="bold" font-size="56.76" fill="#262626" stroke="#262626" stroke-width="1.2">-100</text>
<text transform="translate(2119.58 1989.95) scale(1.2410 1)" font-family="'Liberation Sans', Arial, Helvetica, sans-serif" font-weight="bold" font-size="56.76" fill="#262626" stroke="#262626" stroke-width="1.2">-120</text>
<text transform="translate(2119.58 2142.68) scale(1.2410 1)" font-family="'Liberation Sans', Arial, Helvetica, sans-serif" font-weight="bold" font-size="56.76" fill="#262626" stroke="#262626" stroke-width="1.2">-140</text>
<text transform="translate(2352.7 2003.25) rotate(-90) scale(1 1.2088)" font-family="'Liberation Sans', Arial, Helvetica, sans-serif" font-weight="bold" font-size="57.91" fill="#262626" stroke="#262626" stroke-width="1.2">Power/frequency (dB/Hz)</text>
<text transform="translate(1153.49 2546.18) scale(0.9626 1)" font-family="'Liberation Serif', 'Times New Roman', serif" font-weight="normal" font-size="88.67" fill="#000">(<tspan font-weight="bold">b</tspan>)</text></g>
</svg>
</body></html>
